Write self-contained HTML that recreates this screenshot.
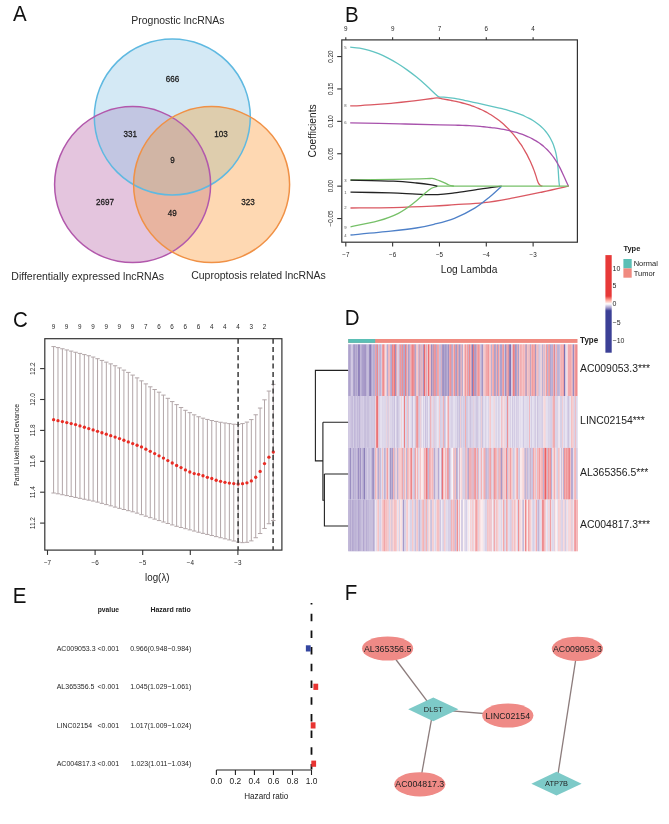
<!DOCTYPE html>
<html><head><meta charset="utf-8"><style>
html,body{margin:0;padding:0;background:#fff;}
svg{display:block;font-family:"Liberation Sans", sans-serif;will-change:transform;}
</style></head><body>
<svg width="669" height="824" viewBox="0 0 669 824">
<rect width="669" height="824" fill="#fff"/>
<text x="0" y="0" transform="translate(13.1,20.9) scale(1,1.04)" font-size="20.5" text-anchor="start" font-weight="normal" fill="#111" >A</text>
<text x="0" y="0" transform="translate(344.9,21.8) scale(1,1.04)" font-size="20.5" text-anchor="start" font-weight="normal" fill="#111" >B</text>
<text x="0" y="0" transform="translate(13,326.5) scale(1,1.04)" font-size="20.5" text-anchor="start" font-weight="normal" fill="#111" >C</text>
<text x="0" y="0" transform="translate(344.8,325.4) scale(1,1.04)" font-size="20.5" text-anchor="start" font-weight="normal" fill="#111" >D</text>
<text x="0" y="0" transform="translate(12.7,602.8) scale(1,1.04)" font-size="20.5" text-anchor="start" font-weight="normal" fill="#111" >E</text>
<text x="0" y="0" transform="translate(344.7,599.8) scale(1,1.04)" font-size="20.5" text-anchor="start" font-weight="normal" fill="#111" >F</text>
<defs>
<clipPath id="cpB"><circle cx="172.3" cy="117.0" r="78.0"/></clipPath>
<clipPath id="cpP"><circle cx="132.6" cy="184.6" r="78.0"/></clipPath>
<clipPath id="cpO"><circle cx="211.6" cy="184.6" r="78.0"/></clipPath>
</defs>
<circle cx="172.3" cy="117.0" r="78.0" fill="rgb(212,233,245)"/>
<circle cx="132.6" cy="184.6" r="78.0" fill="rgb(228,197,222)"/>
<circle cx="211.6" cy="184.6" r="78.0" fill="rgb(254,216,178)"/>
<g clip-path="url(#cpB)"><circle cx="132.6" cy="184.6" r="78.0" fill="rgb(194,198,226)"/><circle cx="211.6" cy="184.6" r="78.0" fill="rgb(222,205,173)"/></g>
<g clip-path="url(#cpP)"><circle cx="211.6" cy="184.6" r="78.0" fill="rgb(232,180,160)"/></g>
<g clip-path="url(#cpB)"><g clip-path="url(#cpP)"><circle cx="211.6" cy="184.6" r="78.0" fill="rgb(209,181,165)"/></g></g>
<circle cx="172.3" cy="117.0" r="78.0" fill="none" stroke="rgb(95,185,225)" stroke-width="1.5"/>
<circle cx="132.6" cy="184.6" r="78.0" fill="none" stroke="rgb(178,88,172)" stroke-width="1.5"/>
<circle cx="211.6" cy="184.6" r="78.0" fill="none" stroke="rgb(240,145,70)" stroke-width="1.5"/>
<text x="0" y="0" transform="translate(172.6,82.2) scale(1,1.04)" font-size="8.1" text-anchor="middle" font-weight="normal" fill="#1a1a1a" stroke="#1a1a1a" stroke-width="0.25">666</text>
<text x="0" y="0" transform="translate(130.2,137.1) scale(1,1.04)" font-size="8.1" text-anchor="middle" font-weight="normal" fill="#1a1a1a" stroke="#1a1a1a" stroke-width="0.25">331</text>
<text x="0" y="0" transform="translate(220.9,137.1) scale(1,1.04)" font-size="8.1" text-anchor="middle" font-weight="normal" fill="#1a1a1a" stroke="#1a1a1a" stroke-width="0.25">103</text>
<text x="0" y="0" transform="translate(172.5,163.4) scale(1,1.04)" font-size="8.1" text-anchor="middle" font-weight="normal" fill="#1a1a1a" stroke="#1a1a1a" stroke-width="0.25">9</text>
<text x="0" y="0" transform="translate(104.9,205.3) scale(1,1.04)" font-size="8.1" text-anchor="middle" font-weight="normal" fill="#1a1a1a" stroke="#1a1a1a" stroke-width="0.25">2697</text>
<text x="0" y="0" transform="translate(172.2,215.9) scale(1,1.04)" font-size="8.1" text-anchor="middle" font-weight="normal" fill="#1a1a1a" stroke="#1a1a1a" stroke-width="0.25">49</text>
<text x="0" y="0" transform="translate(247.9,205.3) scale(1,1.04)" font-size="8.1" text-anchor="middle" font-weight="normal" fill="#1a1a1a" stroke="#1a1a1a" stroke-width="0.25">323</text>
<text x="0" y="0" transform="translate(177.9,24.1) scale(1,1.04)" font-size="10.5" text-anchor="middle" font-weight="normal" fill="#2a2a2a" >Prognostic lncRNAs</text>
<text x="0" y="0" transform="translate(87.6,279.9) scale(1,1.04)" font-size="10.5" text-anchor="middle" font-weight="normal" fill="#2a2a2a" >Differentially expressed lncRNAs</text>
<text x="0" y="0" transform="translate(258.5,279.3) scale(1,1.04)" font-size="10.5" text-anchor="middle" font-weight="normal" fill="#2a2a2a" >Cuproptosis related lncRNAs</text>
<rect x="341.8" y="39.9" width="235.59999999999997" height="202.29999999999998" fill="none" stroke="#333" stroke-width="1.2"/>
<line x1="345.8" y1="39.9" x2="345.8" y2="37.199999999999996" stroke="#333" stroke-width="1.1"/>
<text x="0" y="0" transform="translate(345.8,30.8) scale(1,1.04)" font-size="6.3" text-anchor="middle" font-weight="normal" fill="#262626" >9</text>
<line x1="345.8" y1="242.2" x2="345.8" y2="246.5" stroke="#333" stroke-width="1.1"/>
<text x="0" y="0" transform="translate(345.8,257) scale(1,1.04)" font-size="6.3" text-anchor="middle" font-weight="normal" fill="#262626" >&#8722;7</text>
<line x1="392.63" y1="39.9" x2="392.63" y2="37.199999999999996" stroke="#333" stroke-width="1.1"/>
<text x="0" y="0" transform="translate(392.63,30.8) scale(1,1.04)" font-size="6.3" text-anchor="middle" font-weight="normal" fill="#262626" >9</text>
<line x1="392.63" y1="242.2" x2="392.63" y2="246.5" stroke="#333" stroke-width="1.1"/>
<text x="0" y="0" transform="translate(392.63,257) scale(1,1.04)" font-size="6.3" text-anchor="middle" font-weight="normal" fill="#262626" >&#8722;6</text>
<line x1="439.46" y1="39.9" x2="439.46" y2="37.199999999999996" stroke="#333" stroke-width="1.1"/>
<text x="0" y="0" transform="translate(439.46,30.8) scale(1,1.04)" font-size="6.3" text-anchor="middle" font-weight="normal" fill="#262626" >7</text>
<line x1="439.46" y1="242.2" x2="439.46" y2="246.5" stroke="#333" stroke-width="1.1"/>
<text x="0" y="0" transform="translate(439.46,257) scale(1,1.04)" font-size="6.3" text-anchor="middle" font-weight="normal" fill="#262626" >&#8722;5</text>
<line x1="486.29" y1="39.9" x2="486.29" y2="37.199999999999996" stroke="#333" stroke-width="1.1"/>
<text x="0" y="0" transform="translate(486.29,30.8) scale(1,1.04)" font-size="6.3" text-anchor="middle" font-weight="normal" fill="#262626" >6</text>
<line x1="486.29" y1="242.2" x2="486.29" y2="246.5" stroke="#333" stroke-width="1.1"/>
<text x="0" y="0" transform="translate(486.29,257) scale(1,1.04)" font-size="6.3" text-anchor="middle" font-weight="normal" fill="#262626" >&#8722;4</text>
<line x1="533.12" y1="39.9" x2="533.12" y2="37.199999999999996" stroke="#333" stroke-width="1.1"/>
<text x="0" y="0" transform="translate(533.12,30.8) scale(1,1.04)" font-size="6.3" text-anchor="middle" font-weight="normal" fill="#262626" >4</text>
<line x1="533.12" y1="242.2" x2="533.12" y2="246.5" stroke="#333" stroke-width="1.1"/>
<text x="0" y="0" transform="translate(533.12,257) scale(1,1.04)" font-size="6.3" text-anchor="middle" font-weight="normal" fill="#262626" >&#8722;3</text>
<line x1="337.2" y1="56.55" x2="341.8" y2="56.55" stroke="#333" stroke-width="1.1"/>
<text x="0" y="0" font-size="6.3" text-anchor="middle" fill="#262626" transform="translate(332.6,56.55) rotate(-90) scale(1,1.04)">0.20</text>
<line x1="337.2" y1="88.95" x2="341.8" y2="88.95" stroke="#333" stroke-width="1.1"/>
<text x="0" y="0" font-size="6.3" text-anchor="middle" fill="#262626" transform="translate(332.6,88.95) rotate(-90) scale(1,1.04)">0.15</text>
<line x1="337.2" y1="121.35" x2="341.8" y2="121.35" stroke="#333" stroke-width="1.1"/>
<text x="0" y="0" font-size="6.3" text-anchor="middle" fill="#262626" transform="translate(332.6,121.35) rotate(-90) scale(1,1.04)">0.10</text>
<line x1="337.2" y1="153.75" x2="341.8" y2="153.75" stroke="#333" stroke-width="1.1"/>
<text x="0" y="0" font-size="6.3" text-anchor="middle" fill="#262626" transform="translate(332.6,153.75) rotate(-90) scale(1,1.04)">0.05</text>
<line x1="337.2" y1="186.15" x2="341.8" y2="186.15" stroke="#333" stroke-width="1.1"/>
<text x="0" y="0" font-size="6.3" text-anchor="middle" fill="#262626" transform="translate(332.6,186.15) rotate(-90) scale(1,1.04)">0.00</text>
<line x1="337.2" y1="218.55" x2="341.8" y2="218.55" stroke="#333" stroke-width="1.1"/>
<text x="0" y="0" font-size="6.3" text-anchor="middle" fill="#262626" transform="translate(332.6,218.55) rotate(-90) scale(1,1.04)">&#8722;0.05</text>
<text x="0" y="0" font-size="10.2" text-anchor="middle" fill="#222" transform="translate(316.4,130.9) rotate(-90) scale(1,1.04)">Coefficients</text>
<text x="0" y="0" transform="translate(469.1,273.1) scale(1,1.04)" font-size="10.2" text-anchor="middle" font-weight="normal" fill="#222" >Log Lambda</text>
<path d="M350.2,47.2 C351.78,47.35 356.52,47.58 359.68,48.1 C362.84,48.62 366,49.4 369.16,50.34 C372.31,51.27 375.47,52.41 378.63,53.7 C381.79,55 384.95,56.48 388.11,58.12 C391.27,59.75 394.43,61.56 397.59,63.51 C400.75,65.47 403.91,67.59 407.07,69.85 C410.23,72.11 413.39,74.53 416.54,77.09 C419.7,79.66 422.86,82.37 426.02,85.22 C429.18,88.07 433.34,92.25 435.5,94.19 C437.66,96.14 437.6,96.41 439,96.9 C440.4,97.39 442.3,97.01 443.88,97.13 C445.46,97.24 446.97,97.39 448.46,97.57 C449.95,97.74 451.4,97.95 452.83,98.17 C454.26,98.39 455.66,98.63 457.05,98.88 C458.45,99.13 459.82,99.4 461.19,99.68 C462.57,99.95 463.93,100.24 465.29,100.53 C466.66,100.82 468.02,101.11 469.39,101.41 C470.76,101.71 472.14,102.01 473.52,102.31 C474.9,102.62 476.29,102.92 477.69,103.23 C479.09,103.54 480.5,103.84 481.92,104.15 C483.33,104.47 484.76,104.78 486.2,105.09 C487.64,105.41 489.09,105.73 490.54,106.06 C492,106.38 493.46,106.71 494.93,107.05 C496.4,107.39 497.87,107.74 499.35,108.1 C500.82,108.46 502.3,108.82 503.78,109.21 C505.25,109.59 506.73,109.99 508.2,110.41 C509.67,110.82 511.13,111.25 512.58,111.71 C514.04,112.16 515.48,112.64 516.91,113.14 C518.33,113.64 519.75,114.16 521.14,114.72 C522.53,115.27 523.9,115.85 525.25,116.47 C526.59,117.08 527.92,117.73 529.2,118.41 C530.49,119.09 531.76,119.81 532.98,120.56 C534.2,121.31 535.4,122.1 536.55,122.93 C537.7,123.76 538.81,124.63 539.88,125.55 C540.95,126.46 541.98,127.41 542.95,128.4 C543.93,129.4 544.87,130.44 545.75,131.52 C546.64,132.6 547.47,133.72 548.26,134.88 C549.05,136.05 549.78,137.25 550.47,138.5 C551.15,139.74 551.79,141.03 552.37,142.35 C552.95,143.67 553.49,145.03 553.97,146.42 C554.46,147.82 554.89,149.24 555.28,150.7 C555.67,152.15 556.02,153.63 556.32,155.13 C556.62,156.63 556.88,158.16 557.11,159.69 C557.34,161.23 557.53,162.78 557.69,164.33 C557.86,165.88 557.99,167.44 558.11,168.98 C558.24,170.52 558.33,172.07 558.43,173.58 C558.53,175.09 558.61,176.6 558.71,178.05 C558.81,179.5 558.9,180.93 559.03,182.29 C559.16,183.65 559.42,185.55 559.5,186.2" fill="none" stroke="rgb(97,196,194)" stroke-width="1.3"/>
<path d="M350.2,105.9 C351.9,105.85 357.02,105.73 360.43,105.57 C363.83,105.42 367.24,105.2 370.65,104.97 C374.06,104.74 377.47,104.48 380.88,104.2 C384.28,103.92 387.69,103.61 391.1,103.28 C394.51,102.95 397.92,102.6 401.32,102.24 C404.73,101.87 408.14,101.49 411.55,101.09 C414.96,100.69 418.37,100.27 421.77,99.83 C425.18,99.4 429.46,98.83 432,98.49 C434.54,98.15 435.59,97.8 437,97.8 C438.41,97.8 439.29,98.25 440.44,98.47 C441.6,98.69 442.76,98.9 443.92,99.12 C445.09,99.33 446.26,99.54 447.43,99.76 C448.6,99.98 449.77,100.21 450.95,100.44 C452.12,100.67 453.3,100.9 454.47,101.15 C455.64,101.39 456.81,101.65 457.98,101.91 C459.15,102.18 460.31,102.46 461.48,102.75 C462.64,103.04 463.79,103.34 464.94,103.66 C466.09,103.98 467.24,104.32 468.38,104.67 C469.51,105.02 470.65,105.39 471.77,105.78 C472.89,106.16 474.01,106.56 475.11,106.99 C476.22,107.41 477.32,107.85 478.4,108.31 C479.49,108.77 480.57,109.25 481.63,109.75 C482.7,110.24 483.76,110.76 484.8,111.3 C485.84,111.84 486.88,112.4 487.9,112.97 C488.92,113.55 489.93,114.15 490.93,114.77 C491.92,115.38 492.91,116.02 493.88,116.68 C494.85,117.33 495.81,118.01 496.75,118.7 C497.7,119.4 498.63,120.11 499.55,120.84 C500.46,121.57 501.37,122.32 502.26,123.09 C503.15,123.86 504.03,124.64 504.89,125.45 C505.75,126.25 506.6,127.07 507.43,127.9 C508.27,128.74 509.09,129.59 509.89,130.46 C510.7,131.32 511.49,132.21 512.26,133.1 C513.04,134 513.8,134.91 514.55,135.83 C515.3,136.76 516.03,137.69 516.75,138.64 C517.47,139.59 518.17,140.55 518.86,141.53 C519.55,142.5 520.22,143.48 520.88,144.48 C521.54,145.47 522.18,146.48 522.81,147.49 C523.44,148.5 524.06,149.53 524.66,150.56 C525.26,151.59 525.84,152.63 526.41,153.68 C526.98,154.72 527.54,155.78 528.08,156.84 C528.62,157.9 529.15,158.97 529.66,160.05 C530.17,161.13 530.66,162.21 531.14,163.29 C531.62,164.38 532.09,165.48 532.54,166.57 C532.99,167.67 533.43,168.78 533.85,169.88 C534.27,170.99 534.67,172.11 535.06,173.23 C535.45,174.35 535.82,175.47 536.18,176.6 C536.53,177.73 536.8,178.87 537.2,180 C537.6,181.13 538.07,182.5 538.6,183.4 C539.13,184.3 539.77,184.93 540.4,185.4 C541.03,185.87 542.07,186.07 542.4,186.2" fill="none" stroke="rgb(218,88,98)" stroke-width="1.3"/>
<path d="M350.2,122.9 C358.5,123.07 385.03,123.58 400,123.9 C414.97,124.22 430.83,124.58 440,124.8 C449.17,125.02 451.87,125.12 455,125.2 C458.13,125.28 457.56,125.23 458.81,125.26 C460.06,125.29 461.28,125.33 462.5,125.37 C463.71,125.42 464.9,125.47 466.09,125.52 C467.28,125.58 468.46,125.64 469.63,125.71 C470.81,125.78 471.97,125.85 473.14,125.92 C474.3,126 475.46,126.08 476.62,126.17 C477.79,126.26 478.95,126.35 480.11,126.45 C481.27,126.55 482.44,126.65 483.6,126.76 C484.77,126.87 485.94,126.99 487.11,127.11 C488.29,127.23 489.46,127.37 490.64,127.51 C491.82,127.65 493.01,127.79 494.19,127.95 C495.38,128.11 496.57,128.28 497.76,128.46 C498.95,128.64 500.14,128.83 501.34,129.03 C502.53,129.24 503.73,129.45 504.92,129.69 C506.11,129.92 507.31,130.16 508.5,130.43 C509.69,130.69 510.88,130.97 512.07,131.26 C513.25,131.56 514.43,131.87 515.61,132.21 C516.78,132.54 517.95,132.89 519.11,133.27 C520.26,133.64 521.42,134.04 522.56,134.46 C523.69,134.87 524.82,135.31 525.94,135.78 C527.05,136.24 528.16,136.73 529.24,137.24 C530.33,137.75 531.4,138.29 532.46,138.85 C533.51,139.42 534.55,140.01 535.57,140.62 C536.58,141.24 537.58,141.88 538.56,142.55 C539.54,143.21 540.5,143.91 541.43,144.63 C542.36,145.35 543.27,146.1 544.16,146.88 C545.05,147.65 545.92,148.45 546.76,149.28 C547.6,150.11 548.41,150.96 549.2,151.84 C550,152.72 550.76,153.62 551.5,154.55 C552.25,155.47 552.97,156.42 553.66,157.39 C554.35,158.36 555.02,159.36 555.67,160.37 C556.32,161.38 556.95,162.41 557.55,163.45 C558.16,164.5 558.74,165.56 559.31,166.64 C559.88,167.71 560.43,168.8 560.96,169.89 C561.5,170.98 562.02,172.09 562.53,173.19 C563.04,174.29 563.53,175.4 564.03,176.5 C564.53,177.61 565.01,178.71 565.5,179.8 C565.99,180.9 566.48,181.98 566.98,183.05 C567.48,184.12 568.25,185.68 568.5,186.2" fill="none" stroke="rgb(168,82,172)" stroke-width="1.3"/>
<path d="M350.5,192.1 C357.22,192.23 379.85,192.57 390.8,192.9 C401.75,193.23 408.37,193.82 416.2,194.1 C424.03,194.38 431.43,194.8 437.8,194.6 C444.17,194.4 447.4,193.82 454.4,192.9 C461.4,191.98 471.93,190.22 479.8,189.1 C487.67,187.98 497.97,186.68 501.6,186.2" fill="none" stroke="rgb(35,35,35)" stroke-width="1.3"/>
<path d="M350.5,208 C357.63,207.93 379.68,207.9 393.3,207.6 C406.92,207.3 421.92,206.68 432.2,206.2 C442.48,205.72 446.35,205.28 455,204.7 C463.65,204.12 474.38,203.83 484.1,202.7 C493.82,201.57 503.58,199.68 513.3,197.9 C523.02,196.12 533.17,193.95 542.4,192 C551.63,190.05 564.32,187.17 568.7,186.2" fill="none" stroke="rgb(218,88,98)" stroke-width="1.3"/>
<path d="M350.5,235 C357.22,234.37 379.85,232.37 390.8,231.2 C401.75,230.03 409,229.15 416.2,228 C423.4,226.85 427.63,225.92 434,224.3 C440.37,222.68 447.62,221 454.4,218.3 C461.18,215.6 468.78,211.7 474.7,208.1 C480.62,204.5 485.42,200.35 489.9,196.7 C494.38,193.05 499.65,187.95 501.6,186.2" fill="none" stroke="rgb(78,128,200)" stroke-width="1.3"/>
<path d="M350.5,180 C357.63,179.9 381.72,179.6 393.3,179.4 C404.88,179.2 413.88,178.95 420,178.8 C426.12,178.65 427.58,178.5 430,178.5 C432.42,178.5 432.17,178.12 434.5,178.8 C436.83,179.48 441.58,181.57 444,182.6 C446.42,183.63 447.33,184.4 449,185 C450.67,185.6 453.17,186 454,186.2" fill="none" stroke="rgb(118,192,104)" stroke-width="1.3"/>
<path d="M350.5,226.8 C355.08,225.82 370.02,223.15 378,220.9 C385.98,218.65 392.45,216.27 398.4,213.3 C404.35,210.33 409.45,206.28 413.7,203.1 C417.95,199.92 420.93,196.67 423.9,194.2 C426.87,191.73 429.25,189.63 431.5,188.3 C433.75,186.97 436.42,186.55 437.4,186.2" fill="none" stroke="rgb(118,192,104)" stroke-width="1.3"/>
<line x1="437.4" y1="186.2" x2="568.7" y2="186.2" stroke="rgb(118,192,104)" stroke-width="1.3"/>
<path d="M350.5,180.2 C357.63,180.37 382.28,180.73 393.3,181.2 C404.32,181.67 410.48,182.43 416.6,183 C422.72,183.57 426.53,184.07 430,184.6 C433.47,185.13 436.17,185.93 437.4,186.2" fill="none" stroke="rgb(35,35,35)" stroke-width="1.3"/>
<text x="0" y="0" transform="translate(345.5,48.7) scale(1,1.04)" font-size="4.2" text-anchor="middle" font-weight="normal" fill="#555" >5</text>
<text x="0" y="0" transform="translate(345.5,107.4) scale(1,1.04)" font-size="4.2" text-anchor="middle" font-weight="normal" fill="#555" >8</text>
<text x="0" y="0" transform="translate(345.5,124.4) scale(1,1.04)" font-size="4.2" text-anchor="middle" font-weight="normal" fill="#555" >6</text>
<text x="0" y="0" transform="translate(345.5,181.5) scale(1,1.04)" font-size="4.2" text-anchor="middle" font-weight="normal" fill="#555" >3</text>
<text x="0" y="0" transform="translate(345.5,193.5) scale(1,1.04)" font-size="4.2" text-anchor="middle" font-weight="normal" fill="#555" >1</text>
<text x="0" y="0" transform="translate(345.5,209.1) scale(1,1.04)" font-size="4.2" text-anchor="middle" font-weight="normal" fill="#555" >2</text>
<text x="0" y="0" transform="translate(345.5,228.5) scale(1,1.04)" font-size="4.2" text-anchor="middle" font-weight="normal" fill="#555" >9</text>
<text x="0" y="0" transform="translate(345.5,236.7) scale(1,1.04)" font-size="4.2" text-anchor="middle" font-weight="normal" fill="#555" >4</text>
<rect x="44.8" y="338.7" width="237.09999999999997" height="211.40000000000003" fill="none" stroke="#333" stroke-width="1.2"/>
<line x1="47.5" y1="550.1" x2="47.5" y2="554.9" stroke="#333" stroke-width="1.1"/>
<text x="0" y="0" transform="translate(47.5,565.3) scale(1,1.04)" font-size="6.3" text-anchor="middle" font-weight="normal" fill="#262626" >&#8722;7</text>
<line x1="95.1" y1="550.1" x2="95.1" y2="554.9" stroke="#333" stroke-width="1.1"/>
<text x="0" y="0" transform="translate(95.1,565.3) scale(1,1.04)" font-size="6.3" text-anchor="middle" font-weight="normal" fill="#262626" >&#8722;6</text>
<line x1="142.7" y1="550.1" x2="142.7" y2="554.9" stroke="#333" stroke-width="1.1"/>
<text x="0" y="0" transform="translate(142.7,565.3) scale(1,1.04)" font-size="6.3" text-anchor="middle" font-weight="normal" fill="#262626" >&#8722;5</text>
<line x1="190.3" y1="550.1" x2="190.3" y2="554.9" stroke="#333" stroke-width="1.1"/>
<text x="0" y="0" transform="translate(190.3,565.3) scale(1,1.04)" font-size="6.3" text-anchor="middle" font-weight="normal" fill="#262626" >&#8722;4</text>
<line x1="237.9" y1="550.1" x2="237.9" y2="554.9" stroke="#333" stroke-width="1.1"/>
<text x="0" y="0" transform="translate(237.9,565.3) scale(1,1.04)" font-size="6.3" text-anchor="middle" font-weight="normal" fill="#262626" >&#8722;3</text>
<line x1="40.099999999999994" y1="368.6" x2="44.8" y2="368.6" stroke="#333" stroke-width="1.1"/>
<text x="0" y="0" font-size="6.5" text-anchor="middle" fill="#262626" transform="translate(34.8,368.6) rotate(-90) scale(1,1.04)">12.2</text>
<line x1="40.099999999999994" y1="399.5" x2="44.8" y2="399.5" stroke="#333" stroke-width="1.1"/>
<text x="0" y="0" font-size="6.5" text-anchor="middle" fill="#262626" transform="translate(34.8,399.5) rotate(-90) scale(1,1.04)">12.0</text>
<line x1="40.099999999999994" y1="430.4" x2="44.8" y2="430.4" stroke="#333" stroke-width="1.1"/>
<text x="0" y="0" font-size="6.5" text-anchor="middle" fill="#262626" transform="translate(34.8,430.4) rotate(-90) scale(1,1.04)">11.8</text>
<line x1="40.099999999999994" y1="461.3" x2="44.8" y2="461.3" stroke="#333" stroke-width="1.1"/>
<text x="0" y="0" font-size="6.5" text-anchor="middle" fill="#262626" transform="translate(34.8,461.3) rotate(-90) scale(1,1.04)">11.6</text>
<line x1="40.099999999999994" y1="492.2" x2="44.8" y2="492.2" stroke="#333" stroke-width="1.1"/>
<text x="0" y="0" font-size="6.5" text-anchor="middle" fill="#262626" transform="translate(34.8,492.2) rotate(-90) scale(1,1.04)">11.4</text>
<line x1="40.099999999999994" y1="523.1" x2="44.8" y2="523.1" stroke="#333" stroke-width="1.1"/>
<text x="0" y="0" font-size="6.5" text-anchor="middle" fill="#262626" transform="translate(34.8,523.1) rotate(-90) scale(1,1.04)">11.2</text>
<text x="0" y="0" font-size="6.8" text-anchor="middle" fill="#222" transform="translate(18.9,444.9) rotate(-90) scale(1,1.04)">Partial Likelihood Deviance</text>
<text x="0" y="0" transform="translate(157.3,580.6) scale(1,1.04)" font-size="9.8" text-anchor="middle" font-weight="normal" fill="#222" >log(&#955;)</text>
<text x="0" y="0" transform="translate(53.4,328.8) scale(1,1.04)" font-size="6.3" text-anchor="middle" font-weight="normal" fill="#262626" >9</text>
<text x="0" y="0" transform="translate(66.59,328.8) scale(1,1.04)" font-size="6.3" text-anchor="middle" font-weight="normal" fill="#262626" >9</text>
<text x="0" y="0" transform="translate(79.78,328.8) scale(1,1.04)" font-size="6.3" text-anchor="middle" font-weight="normal" fill="#262626" >9</text>
<text x="0" y="0" transform="translate(92.97,328.8) scale(1,1.04)" font-size="6.3" text-anchor="middle" font-weight="normal" fill="#262626" >9</text>
<text x="0" y="0" transform="translate(106.16,328.8) scale(1,1.04)" font-size="6.3" text-anchor="middle" font-weight="normal" fill="#262626" >9</text>
<text x="0" y="0" transform="translate(119.35,328.8) scale(1,1.04)" font-size="6.3" text-anchor="middle" font-weight="normal" fill="#262626" >9</text>
<text x="0" y="0" transform="translate(132.54,328.8) scale(1,1.04)" font-size="6.3" text-anchor="middle" font-weight="normal" fill="#262626" >9</text>
<text x="0" y="0" transform="translate(145.73,328.8) scale(1,1.04)" font-size="6.3" text-anchor="middle" font-weight="normal" fill="#262626" >7</text>
<text x="0" y="0" transform="translate(158.92,328.8) scale(1,1.04)" font-size="6.3" text-anchor="middle" font-weight="normal" fill="#262626" >6</text>
<text x="0" y="0" transform="translate(172.11,328.8) scale(1,1.04)" font-size="6.3" text-anchor="middle" font-weight="normal" fill="#262626" >6</text>
<text x="0" y="0" transform="translate(185.3,328.8) scale(1,1.04)" font-size="6.3" text-anchor="middle" font-weight="normal" fill="#262626" >6</text>
<text x="0" y="0" transform="translate(198.49,328.8) scale(1,1.04)" font-size="6.3" text-anchor="middle" font-weight="normal" fill="#262626" >6</text>
<text x="0" y="0" transform="translate(211.68,328.8) scale(1,1.04)" font-size="6.3" text-anchor="middle" font-weight="normal" fill="#262626" >4</text>
<text x="0" y="0" transform="translate(224.87,328.8) scale(1,1.04)" font-size="6.3" text-anchor="middle" font-weight="normal" fill="#262626" >4</text>
<text x="0" y="0" transform="translate(238.06,328.8) scale(1,1.04)" font-size="6.3" text-anchor="middle" font-weight="normal" fill="#262626" >4</text>
<text x="0" y="0" transform="translate(251.25,328.8) scale(1,1.04)" font-size="6.3" text-anchor="middle" font-weight="normal" fill="#262626" >3</text>
<text x="0" y="0" transform="translate(264.44,328.8) scale(1,1.04)" font-size="6.3" text-anchor="middle" font-weight="normal" fill="#262626" >2</text>
<path d="M53.6,346.59V493 M57.99,347.62V493.81 M62.39,348.78V494.72 M66.78,349.94V495.62 M71.18,351.1V496.53 M75.57,352.26V497.43 M79.96,353.42V498.34 M84.36,354.58V499.24 M88.75,355.74V500.15 M93.15,357.06V501.06 M97.54,358.71V502.12 M101.93,360.42V503.35 M106.33,362.14V504.6 M110.72,363.87V505.85 M115.12,365.75V507.11 M119.51,367.91V508.34 M123.9,370.1V509.51 M128.3,372.41V510.66 M132.69,375.08V511.81 M137.09,377.88V513.15 M141.48,380.85V514.66 M145.87,383.88V516.19 M150.27,386.82V517.68 M154.66,389.52V519.13 M159.06,392.17V520.58 M163.45,395.08V522.03 M167.84,398.32V523.48 M172.24,401.58V524.92 M176.63,404.62V526.29 M181.03,407.52V527.5 M185.42,410.3V528.68 M189.81,412.65V529.86 M194.21,414.84V531.04 M198.6,416.76V532.22 M203,418.16V533.35 M207.39,419.43V534.44 M211.78,420.52V535.54 M216.18,421.42V536.63 M220.57,422.27V537.73 M224.97,422.98V538.82 M229.36,423.61V539.92 M233.75,424.23V541.01 M238.15,424.51V542.05 M242.54,423.57V542.65 M246.94,422.09V542.31 M251.33,419.58V540.87 M255.72,414.77V537.72 M260.12,408.06V533.54 M264.51,399.82V528.44 M268.91,391.05V523.73 M273.3,384.39V520.53" stroke="rgb(178,166,168)" stroke-width="1" fill="none"/>
<path d="M51.4,346.59H55.8 M51.4,493H55.8 M55.79,347.62H60.19 M55.79,493.81H60.19 M60.19,348.78H64.59 M60.19,494.72H64.59 M64.58,349.94H68.98 M64.58,495.62H68.98 M68.98,351.1H73.38 M68.98,496.53H73.38 M73.37,352.26H77.77 M73.37,497.43H77.77 M77.76,353.42H82.16 M77.76,498.34H82.16 M82.16,354.58H86.56 M82.16,499.24H86.56 M86.55,355.74H90.95 M86.55,500.15H90.95 M90.95,357.06H95.35 M90.95,501.06H95.35 M95.34,358.71H99.74 M95.34,502.12H99.74 M99.73,360.42H104.13 M99.73,503.35H104.13 M104.13,362.14H108.53 M104.13,504.6H108.53 M108.52,363.87H112.92 M108.52,505.85H112.92 M112.92,365.75H117.32 M112.92,507.11H117.32 M117.31,367.91H121.71 M117.31,508.34H121.71 M121.7,370.1H126.1 M121.7,509.51H126.1 M126.1,372.41H130.5 M126.1,510.66H130.5 M130.49,375.08H134.89 M130.49,511.81H134.89 M134.89,377.88H139.29 M134.89,513.15H139.29 M139.28,380.85H143.68 M139.28,514.66H143.68 M143.67,383.88H148.07 M143.67,516.19H148.07 M148.07,386.82H152.47 M148.07,517.68H152.47 M152.46,389.52H156.86 M152.46,519.13H156.86 M156.86,392.17H161.26 M156.86,520.58H161.26 M161.25,395.08H165.65 M161.25,522.03H165.65 M165.64,398.32H170.04 M165.64,523.48H170.04 M170.04,401.58H174.44 M170.04,524.92H174.44 M174.43,404.62H178.83 M174.43,526.29H178.83 M178.83,407.52H183.23 M178.83,527.5H183.23 M183.22,410.3H187.62 M183.22,528.68H187.62 M187.61,412.65H192.01 M187.61,529.86H192.01 M192.01,414.84H196.41 M192.01,531.04H196.41 M196.4,416.76H200.8 M196.4,532.22H200.8 M200.8,418.16H205.2 M200.8,533.35H205.2 M205.19,419.43H209.59 M205.19,534.44H209.59 M209.58,420.52H213.98 M209.58,535.54H213.98 M213.98,421.42H218.38 M213.98,536.63H218.38 M218.37,422.27H222.77 M218.37,537.73H222.77 M222.77,422.98H227.17 M222.77,538.82H227.17 M227.16,423.61H231.56 M227.16,539.92H231.56 M231.55,424.23H235.95 M231.55,541.01H235.95 M235.95,424.51H240.35 M235.95,542.05H240.35 M240.34,423.57H244.74 M240.34,542.65H244.74 M244.74,422.09H249.14 M244.74,542.31H249.14 M249.13,419.58H253.53 M249.13,540.87H253.53 M253.52,414.77H257.92 M253.52,537.72H257.92 M257.92,408.06H262.32 M257.92,533.54H262.32 M262.31,399.82H266.71 M262.31,528.44H266.71 M266.71,391.05H271.11 M266.71,523.73H271.11 M271.1,384.39H275.5 M271.1,520.53H275.5" stroke="rgb(178,166,168)" stroke-width="1" fill="none"/>
<circle cx="53.6" cy="419.64" r="1.65" fill="rgb(232,44,36)"/>
<circle cx="57.99" cy="420.63" r="1.65" fill="rgb(232,44,36)"/>
<circle cx="62.39" cy="421.61" r="1.65" fill="rgb(232,44,36)"/>
<circle cx="66.78" cy="422.59" r="1.65" fill="rgb(232,44,36)"/>
<circle cx="71.18" cy="423.58" r="1.65" fill="rgb(232,44,36)"/>
<circle cx="75.57" cy="424.58" r="1.65" fill="rgb(232,44,36)"/>
<circle cx="79.96" cy="425.92" r="1.65" fill="rgb(232,44,36)"/>
<circle cx="84.36" cy="427.26" r="1.65" fill="rgb(232,44,36)"/>
<circle cx="88.75" cy="428.6" r="1.65" fill="rgb(232,44,36)"/>
<circle cx="93.15" cy="429.93" r="1.65" fill="rgb(232,44,36)"/>
<circle cx="97.54" cy="431.28" r="1.65" fill="rgb(232,44,36)"/>
<circle cx="101.93" cy="432.74" r="1.65" fill="rgb(232,44,36)"/>
<circle cx="106.33" cy="434.2" r="1.65" fill="rgb(232,44,36)"/>
<circle cx="110.72" cy="435.65" r="1.65" fill="rgb(232,44,36)"/>
<circle cx="115.12" cy="437.11" r="1.65" fill="rgb(232,44,36)"/>
<circle cx="119.51" cy="438.58" r="1.65" fill="rgb(232,44,36)"/>
<circle cx="123.9" cy="440.24" r="1.65" fill="rgb(232,44,36)"/>
<circle cx="128.3" cy="441.91" r="1.65" fill="rgb(232,44,36)"/>
<circle cx="132.69" cy="443.58" r="1.65" fill="rgb(232,44,36)"/>
<circle cx="137.09" cy="445.24" r="1.65" fill="rgb(232,44,36)"/>
<circle cx="141.48" cy="446.94" r="1.65" fill="rgb(232,44,36)"/>
<circle cx="145.87" cy="449.16" r="1.65" fill="rgb(232,44,36)"/>
<circle cx="150.27" cy="451.37" r="1.65" fill="rgb(232,44,36)"/>
<circle cx="154.66" cy="453.59" r="1.65" fill="rgb(232,44,36)"/>
<circle cx="159.06" cy="455.81" r="1.65" fill="rgb(232,44,36)"/>
<circle cx="163.45" cy="458.03" r="1.65" fill="rgb(232,44,36)"/>
<circle cx="167.84" cy="460.58" r="1.65" fill="rgb(232,44,36)"/>
<circle cx="172.24" cy="462.98" r="1.65" fill="rgb(232,44,36)"/>
<circle cx="176.63" cy="465.51" r="1.65" fill="rgb(232,44,36)"/>
<circle cx="181.03" cy="467.57" r="1.65" fill="rgb(232,44,36)"/>
<circle cx="185.42" cy="469.96" r="1.65" fill="rgb(232,44,36)"/>
<circle cx="189.81" cy="471.98" r="1.65" fill="rgb(232,44,36)"/>
<circle cx="194.21" cy="473.54" r="1.65" fill="rgb(232,44,36)"/>
<circle cx="198.6" cy="474.33" r="1.65" fill="rgb(232,44,36)"/>
<circle cx="203" cy="475.77" r="1.65" fill="rgb(232,44,36)"/>
<circle cx="207.39" cy="477.37" r="1.65" fill="rgb(232,44,36)"/>
<circle cx="211.78" cy="478.51" r="1.65" fill="rgb(232,44,36)"/>
<circle cx="216.18" cy="480.24" r="1.65" fill="rgb(232,44,36)"/>
<circle cx="220.57" cy="481.32" r="1.65" fill="rgb(232,44,36)"/>
<circle cx="224.97" cy="482.33" r="1.65" fill="rgb(232,44,36)"/>
<circle cx="229.36" cy="483.11" r="1.65" fill="rgb(232,44,36)"/>
<circle cx="233.75" cy="483.61" r="1.65" fill="rgb(232,44,36)"/>
<circle cx="238.15" cy="483.99" r="1.65" fill="rgb(232,44,36)"/>
<circle cx="242.54" cy="483.66" r="1.65" fill="rgb(232,44,36)"/>
<circle cx="246.94" cy="482.84" r="1.65" fill="rgb(232,44,36)"/>
<circle cx="251.33" cy="480.88" r="1.65" fill="rgb(232,44,36)"/>
<circle cx="255.72" cy="477.25" r="1.65" fill="rgb(232,44,36)"/>
<circle cx="260.12" cy="471.41" r="1.65" fill="rgb(232,44,36)"/>
<circle cx="264.51" cy="463.58" r="1.65" fill="rgb(232,44,36)"/>
<circle cx="268.91" cy="457.18" r="1.65" fill="rgb(232,44,36)"/>
<circle cx="273.3" cy="452" r="1.65" fill="rgb(232,44,36)"/>
<line x1="238.1" y1="338.7" x2="238.1" y2="550.1" stroke="#3a3a3a" stroke-width="1.5" stroke-dasharray="5,3.3"/>
<line x1="273.1" y1="338.7" x2="273.1" y2="550.1" stroke="#3a3a3a" stroke-width="1.5" stroke-dasharray="5,3.3"/>
<rect x="348.2" y="344.3" width="0.56" height="51.7" fill="#8678b4"/><rect x="348.74" y="344.3" width="1.64" height="51.7" fill="#aea2cd"/><rect x="350.36" y="344.3" width="1.1" height="51.7" fill="#a496c6"/><rect x="351.44" y="344.3" width="1.64" height="51.7" fill="#cfc7e1"/><rect x="353.07" y="344.3" width="0.56" height="51.7" fill="#9789bf"/><rect x="353.61" y="344.3" width="1.1" height="51.7" fill="#8e80b9"/><rect x="354.69" y="344.3" width="0.56" height="51.7" fill="#9385bc"/><rect x="355.23" y="344.3" width="0.56" height="51.7" fill="#9284bb"/><rect x="355.77" y="344.3" width="0.56" height="51.7" fill="#bcb1d5"/><rect x="356.31" y="344.3" width="1.1" height="51.7" fill="#988abf"/><rect x="357.39" y="344.3" width="0.56" height="51.7" fill="#b3a7cf"/><rect x="357.93" y="344.3" width="1.1" height="51.7" fill="#9082ba"/><rect x="359.02" y="344.3" width="1.1" height="51.7" fill="#9486bd"/><rect x="360.1" y="344.3" width="0.56" height="51.7" fill="#9b8dc1"/><rect x="360.64" y="344.3" width="0.56" height="51.7" fill="#c1b8d8"/><rect x="361.18" y="344.3" width="0.56" height="51.7" fill="#9d8fc2"/><rect x="361.72" y="344.3" width="1.1" height="51.7" fill="#9c8ec1"/><rect x="362.8" y="344.3" width="1.1" height="51.7" fill="#a294c5"/><rect x="363.88" y="344.3" width="1.1" height="51.7" fill="#a597c7"/><rect x="364.96" y="344.3" width="1.64" height="51.7" fill="#a395c5"/><rect x="366.59" y="344.3" width="0.56" height="51.7" fill="#b2a6cf"/><rect x="367.13" y="344.3" width="1.1" height="51.7" fill="#bfb5d7"/><rect x="368.21" y="344.3" width="0.56" height="51.7" fill="#bfb5d7"/><rect x="368.75" y="344.3" width="1.1" height="51.7" fill="#8b7db7"/><rect x="369.83" y="344.3" width="1.64" height="51.7" fill="#8c7eb8"/><rect x="371.45" y="344.3" width="0.56" height="51.7" fill="#9e90c3"/><rect x="372" y="344.3" width="1.1" height="51.7" fill="#c4bada"/><rect x="373.08" y="344.3" width="1.1" height="51.7" fill="#b2a6cf"/><rect x="374.16" y="344.3" width="0.56" height="51.7" fill="#8b7db7"/><rect x="374.7" y="344.3" width="0.56" height="51.7" fill="#bdb3d6"/><rect x="375.24" y="344.3" width="1.1" height="51.7" fill="#ee8b8f"/><rect x="376.32" y="344.3" width="0.56" height="51.7" fill="#9082ba"/><rect x="376.86" y="344.3" width="1.1" height="51.7" fill="#ed8386"/><rect x="377.94" y="344.3" width="1.1" height="51.7" fill="#ccc4df"/><rect x="379.03" y="344.3" width="0.56" height="51.7" fill="#ef979a"/><rect x="379.57" y="344.3" width="1.1" height="51.7" fill="#a698c7"/><rect x="380.65" y="344.3" width="1.1" height="51.7" fill="#b6aad1"/><rect x="381.73" y="344.3" width="0.56" height="51.7" fill="#faeaec"/><rect x="382.27" y="344.3" width="1.64" height="51.7" fill="#ec7c80"/><rect x="383.89" y="344.3" width="0.56" height="51.7" fill="#f4bdbf"/><rect x="384.43" y="344.3" width="0.56" height="51.7" fill="#ef979a"/><rect x="384.97" y="344.3" width="0.56" height="51.7" fill="#f5bfc2"/><rect x="385.52" y="344.3" width="1.1" height="51.7" fill="#f8d9db"/><rect x="386.6" y="344.3" width="0.56" height="51.7" fill="#b5a9d0"/><rect x="387.14" y="344.3" width="1.1" height="51.7" fill="#ac9fcb"/><rect x="388.22" y="344.3" width="0.56" height="51.7" fill="#f19fa2"/><rect x="388.76" y="344.3" width="0.56" height="51.7" fill="#f1a4a7"/><rect x="389.3" y="344.3" width="1.1" height="51.7" fill="#f2abae"/><rect x="390.38" y="344.3" width="0.56" height="51.7" fill="#9b8dc1"/><rect x="390.92" y="344.3" width="1.1" height="51.7" fill="#b1a5ce"/><rect x="392" y="344.3" width="1.64" height="51.7" fill="#ed8588"/><rect x="393.63" y="344.3" width="1.64" height="51.7" fill="#eb767b"/><rect x="395.25" y="344.3" width="0.56" height="51.7" fill="#8274b2"/><rect x="395.79" y="344.3" width="0.56" height="51.7" fill="#61539f"/><rect x="396.33" y="344.3" width="1.1" height="51.7" fill="#f1a2a5"/><rect x="397.41" y="344.3" width="1.64" height="51.7" fill="#d5cde5"/><rect x="399.04" y="344.3" width="0.56" height="51.7" fill="#a193c4"/><rect x="399.58" y="344.3" width="1.64" height="51.7" fill="#f0999c"/><rect x="401.2" y="344.3" width="0.56" height="51.7" fill="#9385bc"/><rect x="401.74" y="344.3" width="1.64" height="51.7" fill="#ee8f92"/><rect x="403.36" y="344.3" width="1.1" height="51.7" fill="#9a8cc0"/><rect x="404.44" y="344.3" width="0.56" height="51.7" fill="#9c8ec1"/><rect x="404.98" y="344.3" width="1.1" height="51.7" fill="#ec7f83"/><rect x="406.07" y="344.3" width="0.56" height="51.7" fill="#6355a0"/><rect x="406.61" y="344.3" width="1.64" height="51.7" fill="#f4b8bb"/><rect x="408.23" y="344.3" width="1.1" height="51.7" fill="#9789be"/><rect x="409.31" y="344.3" width="1.1" height="51.7" fill="#ab9eca"/><rect x="410.39" y="344.3" width="1.64" height="51.7" fill="#f19fa2"/><rect x="412.01" y="344.3" width="1.1" height="51.7" fill="#ed8387"/><rect x="413.1" y="344.3" width="1.64" height="51.7" fill="#ed868a"/><rect x="414.72" y="344.3" width="1.1" height="51.7" fill="#988abf"/><rect x="415.8" y="344.3" width="0.56" height="51.7" fill="#d1c9e2"/><rect x="416.34" y="344.3" width="1.1" height="51.7" fill="#f3b2b4"/><rect x="417.42" y="344.3" width="1.1" height="51.7" fill="#f5bec0"/><rect x="418.5" y="344.3" width="0.56" height="51.7" fill="#a395c5"/><rect x="419.05" y="344.3" width="0.56" height="51.7" fill="#e85e63"/><rect x="419.59" y="344.3" width="1.1" height="51.7" fill="#b0a3cd"/><rect x="420.67" y="344.3" width="1.1" height="51.7" fill="#f2a8aa"/><rect x="421.75" y="344.3" width="0.56" height="51.7" fill="#ab9eca"/><rect x="422.29" y="344.3" width="0.56" height="51.7" fill="#f2acaf"/><rect x="422.83" y="344.3" width="1.1" height="51.7" fill="#a092c4"/><rect x="423.91" y="344.3" width="1.1" height="51.7" fill="#ea6a6f"/><rect x="424.99" y="344.3" width="0.56" height="51.7" fill="#f4b6b8"/><rect x="425.53" y="344.3" width="1.1" height="51.7" fill="#ef9699"/><rect x="426.62" y="344.3" width="0.56" height="51.7" fill="#aa9cca"/><rect x="427.16" y="344.3" width="0.56" height="51.7" fill="#f8dadb"/><rect x="427.7" y="344.3" width="0.56" height="51.7" fill="#ed8488"/><rect x="428.24" y="344.3" width="1.1" height="51.7" fill="#e64a4f"/><rect x="429.32" y="344.3" width="1.1" height="51.7" fill="#f2acae"/><rect x="430.4" y="344.3" width="0.56" height="51.7" fill="#f2adb0"/><rect x="430.94" y="344.3" width="1.1" height="51.7" fill="#9c8ec1"/><rect x="432.02" y="344.3" width="0.56" height="51.7" fill="#f3b0b3"/><rect x="432.57" y="344.3" width="1.1" height="51.7" fill="#8274b2"/><rect x="433.65" y="344.3" width="1.1" height="51.7" fill="#ed8286"/><rect x="434.73" y="344.3" width="1.1" height="51.7" fill="#ec7c80"/><rect x="435.81" y="344.3" width="1.1" height="51.7" fill="#afa2cd"/><rect x="436.89" y="344.3" width="1.1" height="51.7" fill="#f1a3a5"/><rect x="437.97" y="344.3" width="1.1" height="51.7" fill="#f2a8ab"/><rect x="439.05" y="344.3" width="1.64" height="51.7" fill="#c5bcdb"/><rect x="440.68" y="344.3" width="0.56" height="51.7" fill="#998bc0"/><rect x="441.22" y="344.3" width="0.56" height="51.7" fill="#f09ea0"/><rect x="441.76" y="344.3" width="1.1" height="51.7" fill="#988abf"/><rect x="442.84" y="344.3" width="1.64" height="51.7" fill="#9f91c3"/><rect x="444.46" y="344.3" width="1.1" height="51.7" fill="#9587bd"/><rect x="445.54" y="344.3" width="1.1" height="51.7" fill="#8072b1"/><rect x="446.63" y="344.3" width="1.1" height="51.7" fill="#afa2cd"/><rect x="447.71" y="344.3" width="1.64" height="51.7" fill="#9e90c2"/><rect x="449.33" y="344.3" width="1.1" height="51.7" fill="#ee8d90"/><rect x="450.41" y="344.3" width="1.1" height="51.7" fill="#ea6c70"/><rect x="451.49" y="344.3" width="1.1" height="51.7" fill="#a193c4"/><rect x="452.57" y="344.3" width="0.56" height="51.7" fill="#a496c6"/><rect x="453.12" y="344.3" width="0.56" height="51.7" fill="#f3b2b5"/><rect x="453.66" y="344.3" width="1.64" height="51.7" fill="#ef9396"/><rect x="455.28" y="344.3" width="1.64" height="51.7" fill="#9f91c3"/><rect x="456.9" y="344.3" width="0.56" height="51.7" fill="#ec7e82"/><rect x="457.44" y="344.3" width="1.1" height="51.7" fill="#ee8b8f"/><rect x="458.52" y="344.3" width="1.64" height="51.7" fill="#a597c6"/><rect x="460.15" y="344.3" width="0.56" height="51.7" fill="#9385bc"/><rect x="460.69" y="344.3" width="1.1" height="51.7" fill="#f2a9ab"/><rect x="461.77" y="344.3" width="1.1" height="51.7" fill="#a496c6"/><rect x="462.85" y="344.3" width="1.1" height="51.7" fill="#f9dedf"/><rect x="463.93" y="344.3" width="1.1" height="51.7" fill="#f5bfc2"/><rect x="465.01" y="344.3" width="1.1" height="51.7" fill="#f0999c"/><rect x="466.09" y="344.3" width="1.1" height="51.7" fill="#f4babd"/><rect x="467.18" y="344.3" width="1.1" height="51.7" fill="#ee8c90"/><rect x="468.26" y="344.3" width="0.56" height="51.7" fill="#a496c6"/><rect x="468.8" y="344.3" width="1.64" height="51.7" fill="#ee888b"/><rect x="470.42" y="344.3" width="1.1" height="51.7" fill="#f19fa2"/><rect x="471.5" y="344.3" width="1.64" height="51.7" fill="#897bb6"/><rect x="473.13" y="344.3" width="1.1" height="51.7" fill="#ea6c71"/><rect x="474.21" y="344.3" width="1.64" height="51.7" fill="#9c8ec1"/><rect x="475.83" y="344.3" width="0.56" height="51.7" fill="#eb767a"/><rect x="476.37" y="344.3" width="0.56" height="51.7" fill="#a89bc9"/><rect x="476.91" y="344.3" width="0.56" height="51.7" fill="#ec787c"/><rect x="477.45" y="344.3" width="1.64" height="51.7" fill="#ef9598"/><rect x="479.07" y="344.3" width="1.1" height="51.7" fill="#f1a2a5"/><rect x="480.16" y="344.3" width="0.56" height="51.7" fill="#c0b6d7"/><rect x="480.7" y="344.3" width="0.56" height="51.7" fill="#b1a5ce"/><rect x="481.24" y="344.3" width="0.56" height="51.7" fill="#a496c6"/><rect x="481.78" y="344.3" width="1.64" height="51.7" fill="#a294c5"/><rect x="483.4" y="344.3" width="1.1" height="51.7" fill="#f5c3c5"/><rect x="484.48" y="344.3" width="0.56" height="51.7" fill="#f2aeb0"/><rect x="485.02" y="344.3" width="1.1" height="51.7" fill="#f4babd"/><rect x="486.1" y="344.3" width="0.56" height="51.7" fill="#ed8185"/><rect x="486.65" y="344.3" width="1.1" height="51.7" fill="#ef9295"/><rect x="487.73" y="344.3" width="1.64" height="51.7" fill="#f0989b"/><rect x="489.35" y="344.3" width="0.56" height="51.7" fill="#f3b6b8"/><rect x="489.89" y="344.3" width="1.1" height="51.7" fill="#f6c5c7"/><rect x="490.97" y="344.3" width="1.1" height="51.7" fill="#bab0d4"/><rect x="492.05" y="344.3" width="0.56" height="51.7" fill="#f2a8ab"/><rect x="492.59" y="344.3" width="1.1" height="51.7" fill="#ee8e91"/><rect x="493.68" y="344.3" width="0.56" height="51.7" fill="#ef9195"/><rect x="494.22" y="344.3" width="1.1" height="51.7" fill="#9b8dc1"/><rect x="495.3" y="344.3" width="0.56" height="51.7" fill="#8577b4"/><rect x="495.84" y="344.3" width="1.1" height="51.7" fill="#f2abae"/><rect x="496.92" y="344.3" width="1.1" height="51.7" fill="#ac9fcb"/><rect x="498" y="344.3" width="1.1" height="51.7" fill="#f09c9f"/><rect x="499.08" y="344.3" width="0.56" height="51.7" fill="#f3b0b2"/><rect x="499.62" y="344.3" width="0.56" height="51.7" fill="#afa3cd"/><rect x="500.17" y="344.3" width="1.64" height="51.7" fill="#a193c4"/><rect x="501.79" y="344.3" width="0.56" height="51.7" fill="#a092c4"/><rect x="502.33" y="344.3" width="1.64" height="51.7" fill="#ee8e91"/><rect x="503.95" y="344.3" width="0.56" height="51.7" fill="#fcf5f6"/><rect x="504.49" y="344.3" width="0.56" height="51.7" fill="#9f91c3"/><rect x="505.03" y="344.3" width="1.1" height="51.7" fill="#9b8dc1"/><rect x="506.11" y="344.3" width="0.56" height="51.7" fill="#ec7e82"/><rect x="506.65" y="344.3" width="0.56" height="51.7" fill="#9b8dc1"/><rect x="507.2" y="344.3" width="0.56" height="51.7" fill="#ef9093"/><rect x="507.74" y="344.3" width="1.1" height="51.7" fill="#ed868a"/><rect x="508.82" y="344.3" width="1.1" height="51.7" fill="#8a7cb7"/><rect x="509.9" y="344.3" width="1.1" height="51.7" fill="#8072b1"/><rect x="510.98" y="344.3" width="1.64" height="51.7" fill="#d5cee5"/><rect x="512.6" y="344.3" width="0.56" height="51.7" fill="#ed8185"/><rect x="513.14" y="344.3" width="1.64" height="51.7" fill="#ea6b6f"/><rect x="514.77" y="344.3" width="0.56" height="51.7" fill="#b6aad1"/><rect x="515.31" y="344.3" width="1.1" height="51.7" fill="#8375b3"/><rect x="516.39" y="344.3" width="1.1" height="51.7" fill="#9e90c2"/><rect x="517.47" y="344.3" width="0.56" height="51.7" fill="#ef9598"/><rect x="518.01" y="344.3" width="0.56" height="51.7" fill="#a395c5"/><rect x="518.55" y="344.3" width="0.56" height="51.7" fill="#8779b5"/><rect x="519.09" y="344.3" width="0.56" height="51.7" fill="#f09fa2"/><rect x="519.63" y="344.3" width="0.56" height="51.7" fill="#f7ced0"/><rect x="520.17" y="344.3" width="1.64" height="51.7" fill="#f09da0"/><rect x="521.8" y="344.3" width="1.1" height="51.7" fill="#f5c5c7"/><rect x="522.88" y="344.3" width="0.56" height="51.7" fill="#ee8f92"/><rect x="523.42" y="344.3" width="1.1" height="51.7" fill="#f1a3a6"/><rect x="524.5" y="344.3" width="1.1" height="51.7" fill="#f3aeb1"/><rect x="525.58" y="344.3" width="1.1" height="51.7" fill="#8577b4"/><rect x="526.66" y="344.3" width="0.56" height="51.7" fill="#f19fa2"/><rect x="527.21" y="344.3" width="1.64" height="51.7" fill="#f4bbbd"/><rect x="528.83" y="344.3" width="0.56" height="51.7" fill="#baafd4"/><rect x="529.37" y="344.3" width="1.1" height="51.7" fill="#f1a4a7"/><rect x="530.45" y="344.3" width="0.56" height="51.7" fill="#8d7fb8"/><rect x="530.99" y="344.3" width="0.56" height="51.7" fill="#f2aeb1"/><rect x="531.53" y="344.3" width="0.56" height="51.7" fill="#ef9295"/><rect x="532.07" y="344.3" width="1.1" height="51.7" fill="#ef9498"/><rect x="533.15" y="344.3" width="1.1" height="51.7" fill="#f09ea1"/><rect x="534.24" y="344.3" width="1.1" height="51.7" fill="#ef9093"/><rect x="535.32" y="344.3" width="1.1" height="51.7" fill="#8577b4"/><rect x="536.4" y="344.3" width="1.64" height="51.7" fill="#f4bdbf"/><rect x="538.02" y="344.3" width="0.56" height="51.7" fill="#f1a5a7"/><rect x="538.56" y="344.3" width="1.1" height="51.7" fill="#bbb1d5"/><rect x="539.64" y="344.3" width="1.1" height="51.7" fill="#cdc4df"/><rect x="540.73" y="344.3" width="1.1" height="51.7" fill="#f7d0d2"/><rect x="541.81" y="344.3" width="1.64" height="51.7" fill="#bbb0d4"/><rect x="543.43" y="344.3" width="1.1" height="51.7" fill="#f2acaf"/><rect x="544.51" y="344.3" width="0.56" height="51.7" fill="#b3a8d0"/><rect x="545.05" y="344.3" width="1.1" height="51.7" fill="#f6c8ca"/><rect x="546.13" y="344.3" width="1.1" height="51.7" fill="#ee8f92"/><rect x="547.22" y="344.3" width="1.1" height="51.7" fill="#ada1cc"/><rect x="548.3" y="344.3" width="1.1" height="51.7" fill="#ee8d91"/><rect x="549.38" y="344.3" width="0.56" height="51.7" fill="#eb787c"/><rect x="549.92" y="344.3" width="1.64" height="51.7" fill="#b1a4ce"/><rect x="551.54" y="344.3" width="1.1" height="51.7" fill="#a597c7"/><rect x="552.62" y="344.3" width="0.56" height="51.7" fill="#a395c6"/><rect x="553.16" y="344.3" width="0.56" height="51.7" fill="#f2adb0"/><rect x="553.7" y="344.3" width="1.1" height="51.7" fill="#ea6d71"/><rect x="554.79" y="344.3" width="0.56" height="51.7" fill="#9486bd"/><rect x="555.33" y="344.3" width="0.56" height="51.7" fill="#cfc7e1"/><rect x="555.87" y="344.3" width="0.56" height="51.7" fill="#ef9699"/><rect x="556.41" y="344.3" width="0.56" height="51.7" fill="#f0999c"/><rect x="556.95" y="344.3" width="1.1" height="51.7" fill="#beb4d7"/><rect x="558.03" y="344.3" width="1.1" height="51.7" fill="#bbb0d4"/><rect x="559.11" y="344.3" width="1.1" height="51.7" fill="#beb4d6"/><rect x="560.19" y="344.3" width="1.1" height="51.7" fill="#f3b0b2"/><rect x="561.28" y="344.3" width="1.1" height="51.7" fill="#f09a9d"/><rect x="562.36" y="344.3" width="1.64" height="51.7" fill="#f1a2a5"/><rect x="563.98" y="344.3" width="1.1" height="51.7" fill="#7f71b1"/><rect x="565.06" y="344.3" width="0.56" height="51.7" fill="#b3a8d0"/><rect x="565.6" y="344.3" width="1.1" height="51.7" fill="#d6cfe5"/><rect x="566.68" y="344.3" width="1.1" height="51.7" fill="#f9dcde"/><rect x="567.77" y="344.3" width="0.56" height="51.7" fill="#f2adaf"/><rect x="568.31" y="344.3" width="0.56" height="51.7" fill="#ec7e82"/><rect x="568.85" y="344.3" width="1.1" height="51.7" fill="#f2aaad"/><rect x="569.93" y="344.3" width="0.56" height="51.7" fill="#ef9093"/><rect x="570.47" y="344.3" width="1.1" height="51.7" fill="#ee8e92"/><rect x="571.55" y="344.3" width="1.1" height="51.7" fill="#f3b0b3"/><rect x="572.63" y="344.3" width="1.64" height="51.7" fill="#988abf"/><rect x="574.26" y="344.3" width="0.56" height="51.7" fill="#f1a4a7"/><rect x="574.8" y="344.3" width="1.1" height="51.7" fill="#ee8d91"/><rect x="575.88" y="344.3" width="1.64" height="51.7" fill="#ee8a8d"/>
<rect x="348.2" y="396" width="1.1" height="51.9" fill="#c5bcdb"/><rect x="349.28" y="396" width="0.56" height="51.9" fill="#c2b8d9"/><rect x="349.82" y="396" width="1.1" height="51.9" fill="#cbc3df"/><rect x="350.9" y="396" width="1.1" height="51.9" fill="#c9c0dd"/><rect x="351.99" y="396" width="1.64" height="51.9" fill="#c4bbda"/><rect x="353.61" y="396" width="0.56" height="51.9" fill="#cdc4e0"/><rect x="354.15" y="396" width="1.64" height="51.9" fill="#b8add3"/><rect x="355.77" y="396" width="1.1" height="51.9" fill="#cdc4df"/><rect x="356.85" y="396" width="1.1" height="51.9" fill="#c2b9d9"/><rect x="357.93" y="396" width="0.56" height="51.9" fill="#b4a9d0"/><rect x="358.48" y="396" width="1.64" height="51.9" fill="#beb3d6"/><rect x="360.1" y="396" width="1.1" height="51.9" fill="#cac2de"/><rect x="361.18" y="396" width="1.1" height="51.9" fill="#ccc3df"/><rect x="362.26" y="396" width="1.1" height="51.9" fill="#c5bcdb"/><rect x="363.34" y="396" width="0.56" height="51.9" fill="#cac1de"/><rect x="363.88" y="396" width="1.1" height="51.9" fill="#c8bfdc"/><rect x="364.96" y="396" width="1.1" height="51.9" fill="#c7bedc"/><rect x="366.05" y="396" width="1.1" height="51.9" fill="#cec6e0"/><rect x="367.13" y="396" width="1.64" height="51.9" fill="#c2b8d9"/><rect x="368.75" y="396" width="0.56" height="51.9" fill="#b2a6cf"/><rect x="369.29" y="396" width="1.1" height="51.9" fill="#c9c0dd"/><rect x="370.37" y="396" width="0.56" height="51.9" fill="#c5bcdb"/><rect x="370.91" y="396" width="0.56" height="51.9" fill="#c5bcdb"/><rect x="371.45" y="396" width="0.56" height="51.9" fill="#bdb3d6"/><rect x="372" y="396" width="0.56" height="51.9" fill="#c3b9d9"/><rect x="372.54" y="396" width="1.1" height="51.9" fill="#c2b8d9"/><rect x="373.62" y="396" width="0.56" height="51.9" fill="#c8bfdc"/><rect x="374.16" y="396" width="1.1" height="51.9" fill="#c3bada"/><rect x="375.24" y="396" width="0.56" height="51.9" fill="#f0ecf6"/><rect x="375.78" y="396" width="1.1" height="51.9" fill="#eb777b"/><rect x="376.86" y="396" width="1.64" height="51.9" fill="#eb7276"/><rect x="378.48" y="396" width="1.64" height="51.9" fill="#dad3e8"/><rect x="380.11" y="396" width="1.64" height="51.9" fill="#e1dbec"/><rect x="381.73" y="396" width="1.64" height="51.9" fill="#dcd6e9"/><rect x="383.35" y="396" width="0.56" height="51.9" fill="#d4cde4"/><rect x="383.89" y="396" width="0.56" height="51.9" fill="#d1cae2"/><rect x="384.43" y="396" width="1.1" height="51.9" fill="#d4cde4"/><rect x="385.52" y="396" width="0.56" height="51.9" fill="#cfc7e1"/><rect x="386.06" y="396" width="0.56" height="51.9" fill="#cdc5e0"/><rect x="386.6" y="396" width="0.56" height="51.9" fill="#f6c6c8"/><rect x="387.14" y="396" width="1.64" height="51.9" fill="#d1c9e2"/><rect x="388.76" y="396" width="0.56" height="51.9" fill="#f3b3b6"/><rect x="389.3" y="396" width="1.1" height="51.9" fill="#dcd6e9"/><rect x="390.38" y="396" width="1.1" height="51.9" fill="#cec6e0"/><rect x="391.46" y="396" width="1.64" height="51.9" fill="#d3cce4"/><rect x="393.09" y="396" width="0.56" height="51.9" fill="#d0c8e2"/><rect x="393.63" y="396" width="1.64" height="51.9" fill="#cac1de"/><rect x="395.25" y="396" width="1.1" height="51.9" fill="#e5e0ef"/><rect x="396.33" y="396" width="1.64" height="51.9" fill="#c7bedc"/><rect x="397.95" y="396" width="1.1" height="51.9" fill="#d4cde4"/><rect x="399.04" y="396" width="1.1" height="51.9" fill="#dbd5e9"/><rect x="400.12" y="396" width="1.1" height="51.9" fill="#e4dfee"/><rect x="401.2" y="396" width="0.56" height="51.9" fill="#f2acae"/><rect x="401.74" y="396" width="1.1" height="51.9" fill="#ebe7f3"/><rect x="402.82" y="396" width="1.1" height="51.9" fill="#e3deee"/><rect x="403.9" y="396" width="1.1" height="51.9" fill="#ec7c80"/><rect x="404.98" y="396" width="0.56" height="51.9" fill="#e7e2f0"/><rect x="405.52" y="396" width="1.1" height="51.9" fill="#c9c0dd"/><rect x="406.61" y="396" width="0.56" height="51.9" fill="#cec6e1"/><rect x="407.15" y="396" width="1.1" height="51.9" fill="#f4b7ba"/><rect x="408.23" y="396" width="1.1" height="51.9" fill="#c6bcdb"/><rect x="409.31" y="396" width="0.56" height="51.9" fill="#f9dee0"/><rect x="409.85" y="396" width="1.64" height="51.9" fill="#e5e0ef"/><rect x="411.47" y="396" width="1.64" height="51.9" fill="#cac1de"/><rect x="413.1" y="396" width="1.64" height="51.9" fill="#e8e3f0"/><rect x="414.72" y="396" width="1.1" height="51.9" fill="#ccc4df"/><rect x="415.8" y="396" width="1.1" height="51.9" fill="#f09c9f"/><rect x="416.88" y="396" width="1.64" height="51.9" fill="#ef9497"/><rect x="418.5" y="396" width="0.56" height="51.9" fill="#c2b8d9"/><rect x="419.05" y="396" width="1.1" height="51.9" fill="#d1c9e2"/><rect x="420.13" y="396" width="0.56" height="51.9" fill="#ded8eb"/><rect x="420.67" y="396" width="0.56" height="51.9" fill="#f09da0"/><rect x="421.21" y="396" width="0.56" height="51.9" fill="#cfc7e1"/><rect x="421.75" y="396" width="0.56" height="51.9" fill="#e1dbec"/><rect x="422.29" y="396" width="0.56" height="51.9" fill="#f0edf6"/><rect x="422.83" y="396" width="1.1" height="51.9" fill="#d2cbe3"/><rect x="423.91" y="396" width="0.56" height="51.9" fill="#ded8eb"/><rect x="424.45" y="396" width="0.56" height="51.9" fill="#ded8ea"/><rect x="424.99" y="396" width="1.64" height="51.9" fill="#cac1de"/><rect x="426.62" y="396" width="0.56" height="51.9" fill="#d7d0e6"/><rect x="427.16" y="396" width="1.1" height="51.9" fill="#c9c0dd"/><rect x="428.24" y="396" width="1.1" height="51.9" fill="#e8e4f1"/><rect x="429.32" y="396" width="1.1" height="51.9" fill="#cbc2de"/><rect x="430.4" y="396" width="1.1" height="51.9" fill="#ef9195"/><rect x="431.48" y="396" width="1.1" height="51.9" fill="#e0daeb"/><rect x="432.57" y="396" width="1.1" height="51.9" fill="#cfc7e1"/><rect x="433.65" y="396" width="0.56" height="51.9" fill="#f4bbbd"/><rect x="434.19" y="396" width="1.1" height="51.9" fill="#cfc6e1"/><rect x="435.27" y="396" width="0.56" height="51.9" fill="#c8bfdc"/><rect x="435.81" y="396" width="1.1" height="51.9" fill="#ddd7ea"/><rect x="436.89" y="396" width="0.56" height="51.9" fill="#e4deee"/><rect x="437.43" y="396" width="1.64" height="51.9" fill="#e3deed"/><rect x="439.05" y="396" width="0.56" height="51.9" fill="#f3b1b3"/><rect x="439.6" y="396" width="0.56" height="51.9" fill="#f4b7ba"/><rect x="440.14" y="396" width="1.64" height="51.9" fill="#cfc7e1"/><rect x="441.76" y="396" width="1.1" height="51.9" fill="#d9d2e7"/><rect x="442.84" y="396" width="1.1" height="51.9" fill="#f2abae"/><rect x="443.92" y="396" width="1.64" height="51.9" fill="#c7bedc"/><rect x="445.54" y="396" width="0.56" height="51.9" fill="#cdc5e0"/><rect x="446.09" y="396" width="1.64" height="51.9" fill="#efecf5"/><rect x="447.71" y="396" width="0.56" height="51.9" fill="#e9656a"/><rect x="448.25" y="396" width="1.1" height="51.9" fill="#f0989b"/><rect x="449.33" y="396" width="1.1" height="51.9" fill="#dcd6e9"/><rect x="450.41" y="396" width="0.56" height="51.9" fill="#d1c9e2"/><rect x="450.95" y="396" width="1.64" height="51.9" fill="#d7d0e6"/><rect x="452.57" y="396" width="0.56" height="51.9" fill="#c7bddc"/><rect x="453.12" y="396" width="1.64" height="51.9" fill="#e1dcec"/><rect x="454.74" y="396" width="1.64" height="51.9" fill="#dcd6e9"/><rect x="456.36" y="396" width="0.56" height="51.9" fill="#d5cee5"/><rect x="456.9" y="396" width="1.64" height="51.9" fill="#cec6e0"/><rect x="458.52" y="396" width="1.64" height="51.9" fill="#c9c0dd"/><rect x="460.15" y="396" width="0.56" height="51.9" fill="#f1a6a9"/><rect x="460.69" y="396" width="0.56" height="51.9" fill="#e0daeb"/><rect x="461.23" y="396" width="1.1" height="51.9" fill="#c9c0dd"/><rect x="462.31" y="396" width="0.56" height="51.9" fill="#d5cee5"/><rect x="462.85" y="396" width="1.1" height="51.9" fill="#d0c8e2"/><rect x="463.93" y="396" width="1.1" height="51.9" fill="#d6cfe5"/><rect x="465.01" y="396" width="0.56" height="51.9" fill="#f4bcbe"/><rect x="465.55" y="396" width="0.56" height="51.9" fill="#eb7579"/><rect x="466.09" y="396" width="1.64" height="51.9" fill="#ccc4df"/><rect x="467.72" y="396" width="0.56" height="51.9" fill="#c6bddb"/><rect x="468.26" y="396" width="1.1" height="51.9" fill="#d9d3e7"/><rect x="469.34" y="396" width="1.64" height="51.9" fill="#cbc2de"/><rect x="470.96" y="396" width="1.64" height="51.9" fill="#d8d1e7"/><rect x="472.58" y="396" width="1.1" height="51.9" fill="#c7bddc"/><rect x="473.67" y="396" width="0.56" height="51.9" fill="#f6ccce"/><rect x="474.21" y="396" width="1.64" height="51.9" fill="#d7d0e6"/><rect x="475.83" y="396" width="1.1" height="51.9" fill="#ccc4df"/><rect x="476.91" y="396" width="1.64" height="51.9" fill="#d0c8e2"/><rect x="478.53" y="396" width="0.56" height="51.9" fill="#d3cce4"/><rect x="479.07" y="396" width="0.56" height="51.9" fill="#dfd9eb"/><rect x="479.61" y="396" width="1.64" height="51.9" fill="#d8d1e6"/><rect x="481.24" y="396" width="0.56" height="51.9" fill="#f3b5b8"/><rect x="481.78" y="396" width="1.64" height="51.9" fill="#cbc2de"/><rect x="483.4" y="396" width="1.1" height="51.9" fill="#dad4e8"/><rect x="484.48" y="396" width="1.1" height="51.9" fill="#dfd9eb"/><rect x="485.56" y="396" width="0.56" height="51.9" fill="#c0b6d8"/><rect x="486.1" y="396" width="1.64" height="51.9" fill="#e0dbec"/><rect x="487.73" y="396" width="0.56" height="51.9" fill="#e8e3f0"/><rect x="488.27" y="396" width="1.1" height="51.9" fill="#d1c9e2"/><rect x="489.35" y="396" width="1.64" height="51.9" fill="#f6c8ca"/><rect x="490.97" y="396" width="1.64" height="51.9" fill="#e5e1ef"/><rect x="492.59" y="396" width="0.56" height="51.9" fill="#d9d2e7"/><rect x="493.13" y="396" width="0.56" height="51.9" fill="#d7d0e6"/><rect x="493.68" y="396" width="1.1" height="51.9" fill="#f6ccce"/><rect x="494.76" y="396" width="0.56" height="51.9" fill="#ded8ea"/><rect x="495.3" y="396" width="1.64" height="51.9" fill="#d8d1e6"/><rect x="496.92" y="396" width="0.56" height="51.9" fill="#e1dbec"/><rect x="497.46" y="396" width="1.1" height="51.9" fill="#ded8eb"/><rect x="498.54" y="396" width="0.56" height="51.9" fill="#bdb3d6"/><rect x="499.08" y="396" width="1.1" height="51.9" fill="#dad3e8"/><rect x="500.17" y="396" width="1.1" height="51.9" fill="#e5e1ef"/><rect x="501.25" y="396" width="0.56" height="51.9" fill="#f3b4b6"/><rect x="501.79" y="396" width="0.56" height="51.9" fill="#ee8a8d"/><rect x="502.33" y="396" width="0.56" height="51.9" fill="#dfdaeb"/><rect x="502.87" y="396" width="0.56" height="51.9" fill="#f2adb0"/><rect x="503.41" y="396" width="0.56" height="51.9" fill="#fae5e6"/><rect x="503.95" y="396" width="0.56" height="51.9" fill="#d0c8e2"/><rect x="504.49" y="396" width="1.1" height="51.9" fill="#f6cacc"/><rect x="505.57" y="396" width="1.64" height="51.9" fill="#d3cce4"/><rect x="507.2" y="396" width="1.1" height="51.9" fill="#eb777b"/><rect x="508.28" y="396" width="0.56" height="51.9" fill="#d6cfe5"/><rect x="508.82" y="396" width="0.56" height="51.9" fill="#f7cdcf"/><rect x="509.36" y="396" width="1.64" height="51.9" fill="#d9d2e7"/><rect x="510.98" y="396" width="1.1" height="51.9" fill="#e9e5f1"/><rect x="512.06" y="396" width="1.1" height="51.9" fill="#cec6e0"/><rect x="513.14" y="396" width="0.56" height="51.9" fill="#dbd5e9"/><rect x="513.69" y="396" width="1.64" height="51.9" fill="#d4cce4"/><rect x="515.31" y="396" width="0.56" height="51.9" fill="#e0daec"/><rect x="515.85" y="396" width="1.64" height="51.9" fill="#d5cde5"/><rect x="517.47" y="396" width="1.1" height="51.9" fill="#cec5e0"/><rect x="518.55" y="396" width="0.56" height="51.9" fill="#cdc4e0"/><rect x="519.09" y="396" width="0.56" height="51.9" fill="#e0dbec"/><rect x="519.63" y="396" width="1.1" height="51.9" fill="#e1dbec"/><rect x="520.72" y="396" width="0.56" height="51.9" fill="#d0c8e2"/><rect x="521.26" y="396" width="1.64" height="51.9" fill="#e4dfee"/><rect x="522.88" y="396" width="1.1" height="51.9" fill="#d0c8e2"/><rect x="523.96" y="396" width="1.1" height="51.9" fill="#e2dded"/><rect x="525.04" y="396" width="1.1" height="51.9" fill="#e0dbec"/><rect x="526.12" y="396" width="0.56" height="51.9" fill="#d5cee5"/><rect x="526.66" y="396" width="1.1" height="51.9" fill="#d2cae3"/><rect x="527.75" y="396" width="1.64" height="51.9" fill="#e0dbec"/><rect x="529.37" y="396" width="0.56" height="51.9" fill="#ed8589"/><rect x="529.91" y="396" width="1.1" height="51.9" fill="#e4dfee"/><rect x="530.99" y="396" width="0.56" height="51.9" fill="#d0c8e2"/><rect x="531.53" y="396" width="0.56" height="51.9" fill="#c0b6d8"/><rect x="532.07" y="396" width="1.1" height="51.9" fill="#e4dfee"/><rect x="533.15" y="396" width="0.56" height="51.9" fill="#dad4e8"/><rect x="533.7" y="396" width="1.1" height="51.9" fill="#d7d0e6"/><rect x="534.78" y="396" width="1.1" height="51.9" fill="#ccc3df"/><rect x="535.86" y="396" width="0.56" height="51.9" fill="#ddd6ea"/><rect x="536.4" y="396" width="0.56" height="51.9" fill="#e3deee"/><rect x="536.94" y="396" width="1.64" height="51.9" fill="#cdc4df"/><rect x="538.56" y="396" width="1.1" height="51.9" fill="#cfc8e1"/><rect x="539.64" y="396" width="1.1" height="51.9" fill="#d6cfe5"/><rect x="540.73" y="396" width="1.1" height="51.9" fill="#d5cde5"/><rect x="541.81" y="396" width="1.64" height="51.9" fill="#d4cce4"/><rect x="543.43" y="396" width="1.1" height="51.9" fill="#f8d8d9"/><rect x="544.51" y="396" width="1.1" height="51.9" fill="#f6c7c9"/><rect x="545.59" y="396" width="1.1" height="51.9" fill="#dcd6e9"/><rect x="546.67" y="396" width="0.56" height="51.9" fill="#e0dbec"/><rect x="547.22" y="396" width="1.1" height="51.9" fill="#ddd7ea"/><rect x="548.3" y="396" width="1.1" height="51.9" fill="#cec6e1"/><rect x="549.38" y="396" width="0.56" height="51.9" fill="#d0c8e1"/><rect x="549.92" y="396" width="1.1" height="51.9" fill="#d7d0e6"/><rect x="551" y="396" width="1.64" height="51.9" fill="#d5cee5"/><rect x="552.62" y="396" width="1.1" height="51.9" fill="#f1a3a5"/><rect x="553.7" y="396" width="1.1" height="51.9" fill="#ee8a8e"/><rect x="554.79" y="396" width="1.64" height="51.9" fill="#dad4e8"/><rect x="556.41" y="396" width="1.1" height="51.9" fill="#cbc2de"/><rect x="557.49" y="396" width="1.1" height="51.9" fill="#cec6e0"/><rect x="558.57" y="396" width="1.1" height="51.9" fill="#fae9ea"/><rect x="559.65" y="396" width="0.56" height="51.9" fill="#d9d2e7"/><rect x="560.19" y="396" width="1.64" height="51.9" fill="#cfc7e1"/><rect x="561.82" y="396" width="0.56" height="51.9" fill="#d2cae3"/><rect x="562.36" y="396" width="0.56" height="51.9" fill="#f3b5b7"/><rect x="562.9" y="396" width="1.1" height="51.9" fill="#e4dfee"/><rect x="563.98" y="396" width="1.64" height="51.9" fill="#dad3e8"/><rect x="565.6" y="396" width="1.1" height="51.9" fill="#e9e5f2"/><rect x="566.68" y="396" width="1.1" height="51.9" fill="#d2cae3"/><rect x="567.77" y="396" width="1.64" height="51.9" fill="#ccc4df"/><rect x="569.39" y="396" width="1.1" height="51.9" fill="#d8d2e7"/><rect x="570.47" y="396" width="0.56" height="51.9" fill="#e4dfee"/><rect x="571.01" y="396" width="1.64" height="51.9" fill="#f5c0c2"/><rect x="572.63" y="396" width="1.1" height="51.9" fill="#f5bec0"/><rect x="573.71" y="396" width="1.1" height="51.9" fill="#d5cee5"/><rect x="574.8" y="396" width="0.56" height="51.9" fill="#c4bada"/><rect x="575.34" y="396" width="0.56" height="51.9" fill="#f0989c"/><rect x="575.88" y="396" width="0.56" height="51.9" fill="#ddd7ea"/><rect x="576.42" y="396" width="1.1" height="51.9" fill="#d0c9e2"/>
<rect x="348.2" y="447.9" width="1.64" height="51.7" fill="#bdb2d6"/><rect x="349.82" y="447.9" width="1.1" height="51.7" fill="#8d7fb9"/><rect x="350.9" y="447.9" width="0.56" height="51.7" fill="#cbc3df"/><rect x="351.44" y="447.9" width="1.1" height="51.7" fill="#b1a5ce"/><rect x="352.53" y="447.9" width="0.56" height="51.7" fill="#b7acd2"/><rect x="353.07" y="447.9" width="1.1" height="51.7" fill="#afa2cd"/><rect x="354.15" y="447.9" width="0.56" height="51.7" fill="#a79ac8"/><rect x="354.69" y="447.9" width="1.1" height="51.7" fill="#b8add3"/><rect x="355.77" y="447.9" width="0.56" height="51.7" fill="#a294c5"/><rect x="356.31" y="447.9" width="1.64" height="51.7" fill="#beb3d6"/><rect x="357.93" y="447.9" width="1.1" height="51.7" fill="#9b8dc1"/><rect x="359.02" y="447.9" width="0.56" height="51.7" fill="#ada0cb"/><rect x="359.56" y="447.9" width="1.64" height="51.7" fill="#a294c5"/><rect x="361.18" y="447.9" width="1.1" height="51.7" fill="#c3b9d9"/><rect x="362.26" y="447.9" width="1.64" height="51.7" fill="#afa3cd"/><rect x="363.88" y="447.9" width="1.1" height="51.7" fill="#8b7db8"/><rect x="364.96" y="447.9" width="0.56" height="51.7" fill="#a092c4"/><rect x="365.51" y="447.9" width="1.1" height="51.7" fill="#c3b9d9"/><rect x="366.59" y="447.9" width="0.56" height="51.7" fill="#ac9fcb"/><rect x="367.13" y="447.9" width="1.1" height="51.7" fill="#d2cae3"/><rect x="368.21" y="447.9" width="1.64" height="51.7" fill="#bdb3d6"/><rect x="369.83" y="447.9" width="0.56" height="51.7" fill="#cfc7e1"/><rect x="370.37" y="447.9" width="1.64" height="51.7" fill="#c3bada"/><rect x="372" y="447.9" width="1.1" height="51.7" fill="#a89bc9"/><rect x="373.08" y="447.9" width="1.1" height="51.7" fill="#9688be"/><rect x="374.16" y="447.9" width="1.1" height="51.7" fill="#c3b9da"/><rect x="375.24" y="447.9" width="1.1" height="51.7" fill="#f2a8aa"/><rect x="376.32" y="447.9" width="1.1" height="51.7" fill="#f6c9cb"/><rect x="377.4" y="447.9" width="1.64" height="51.7" fill="#b5aad1"/><rect x="379.03" y="447.9" width="0.56" height="51.7" fill="#f2adb0"/><rect x="379.57" y="447.9" width="0.56" height="51.7" fill="#b8acd2"/><rect x="380.11" y="447.9" width="1.1" height="51.7" fill="#c0b6d8"/><rect x="381.19" y="447.9" width="0.56" height="51.7" fill="#ebe7f3"/><rect x="381.73" y="447.9" width="0.56" height="51.7" fill="#beb4d6"/><rect x="382.27" y="447.9" width="1.1" height="51.7" fill="#f4b8ba"/><rect x="383.35" y="447.9" width="0.56" height="51.7" fill="#dcd6e9"/><rect x="383.89" y="447.9" width="1.64" height="51.7" fill="#bcb1d5"/><rect x="385.52" y="447.9" width="0.56" height="51.7" fill="#b7acd2"/><rect x="386.06" y="447.9" width="1.1" height="51.7" fill="#f5c0c3"/><rect x="387.14" y="447.9" width="1.1" height="51.7" fill="#ef9195"/><rect x="388.22" y="447.9" width="0.56" height="51.7" fill="#f7ced0"/><rect x="388.76" y="447.9" width="1.1" height="51.7" fill="#d4cde4"/><rect x="389.84" y="447.9" width="1.64" height="51.7" fill="#a395c5"/><rect x="391.46" y="447.9" width="1.64" height="51.7" fill="#a89ac8"/><rect x="393.09" y="447.9" width="1.1" height="51.7" fill="#f3afb1"/><rect x="394.17" y="447.9" width="0.56" height="51.7" fill="#8a7cb7"/><rect x="394.71" y="447.9" width="0.56" height="51.7" fill="#f8d6d8"/><rect x="395.25" y="447.9" width="0.56" height="51.7" fill="#beb4d7"/><rect x="395.79" y="447.9" width="1.1" height="51.7" fill="#f7d2d4"/><rect x="396.87" y="447.9" width="1.1" height="51.7" fill="#bdb3d6"/><rect x="397.95" y="447.9" width="0.56" height="51.7" fill="#b1a5ce"/><rect x="398.49" y="447.9" width="1.1" height="51.7" fill="#f5bfc1"/><rect x="399.58" y="447.9" width="0.56" height="51.7" fill="#f4b9bc"/><rect x="400.12" y="447.9" width="1.64" height="51.7" fill="#f6c8ca"/><rect x="401.74" y="447.9" width="1.1" height="51.7" fill="#ef9194"/><rect x="402.82" y="447.9" width="1.1" height="51.7" fill="#cbc2de"/><rect x="403.9" y="447.9" width="1.1" height="51.7" fill="#f4b7ba"/><rect x="404.98" y="447.9" width="0.56" height="51.7" fill="#f3b2b5"/><rect x="405.52" y="447.9" width="0.56" height="51.7" fill="#f8d9da"/><rect x="406.07" y="447.9" width="1.1" height="51.7" fill="#bcb2d5"/><rect x="407.15" y="447.9" width="1.1" height="51.7" fill="#f1a5a8"/><rect x="408.23" y="447.9" width="1.1" height="51.7" fill="#f3b4b7"/><rect x="409.31" y="447.9" width="0.56" height="51.7" fill="#f7d3d4"/><rect x="409.85" y="447.9" width="0.56" height="51.7" fill="#f2acaf"/><rect x="410.39" y="447.9" width="1.64" height="51.7" fill="#ed8588"/><rect x="412.01" y="447.9" width="0.56" height="51.7" fill="#f2a8ab"/><rect x="412.56" y="447.9" width="1.1" height="51.7" fill="#d8d1e7"/><rect x="413.64" y="447.9" width="1.1" height="51.7" fill="#b8add3"/><rect x="414.72" y="447.9" width="1.64" height="51.7" fill="#f1a6a9"/><rect x="416.34" y="447.9" width="0.56" height="51.7" fill="#fae7e8"/><rect x="416.88" y="447.9" width="1.1" height="51.7" fill="#f3b5b7"/><rect x="417.96" y="447.9" width="1.64" height="51.7" fill="#dcd6e9"/><rect x="419.59" y="447.9" width="1.64" height="51.7" fill="#f6c6c8"/><rect x="421.21" y="447.9" width="1.1" height="51.7" fill="#fae9eb"/><rect x="422.29" y="447.9" width="0.56" height="51.7" fill="#fbedee"/><rect x="422.83" y="447.9" width="0.56" height="51.7" fill="#f5c4c6"/><rect x="423.37" y="447.9" width="0.56" height="51.7" fill="#dfdaeb"/><rect x="423.91" y="447.9" width="1.64" height="51.7" fill="#f3b2b4"/><rect x="425.53" y="447.9" width="0.56" height="51.7" fill="#f19fa2"/><rect x="426.08" y="447.9" width="1.64" height="51.7" fill="#ea6d72"/><rect x="427.7" y="447.9" width="1.64" height="51.7" fill="#c2b9d9"/><rect x="429.32" y="447.9" width="1.1" height="51.7" fill="#ee8d90"/><rect x="430.4" y="447.9" width="0.56" height="51.7" fill="#f1a3a6"/><rect x="430.94" y="447.9" width="0.56" height="51.7" fill="#f4b9bb"/><rect x="431.48" y="447.9" width="0.56" height="51.7" fill="#f4bbbe"/><rect x="432.02" y="447.9" width="1.64" height="51.7" fill="#f4b7b9"/><rect x="433.65" y="447.9" width="1.64" height="51.7" fill="#b7abd2"/><rect x="435.27" y="447.9" width="0.56" height="51.7" fill="#d3cbe3"/><rect x="435.81" y="447.9" width="0.56" height="51.7" fill="#c4bbda"/><rect x="436.35" y="447.9" width="0.56" height="51.7" fill="#d5cde5"/><rect x="436.89" y="447.9" width="0.56" height="51.7" fill="#f5c3c5"/><rect x="437.43" y="447.9" width="0.56" height="51.7" fill="#cac1de"/><rect x="437.97" y="447.9" width="1.1" height="51.7" fill="#b5a9d1"/><rect x="439.05" y="447.9" width="0.56" height="51.7" fill="#ab9ecb"/><rect x="439.6" y="447.9" width="1.64" height="51.7" fill="#ece8f3"/><rect x="441.22" y="447.9" width="0.56" height="51.7" fill="#a294c5"/><rect x="441.76" y="447.9" width="1.64" height="51.7" fill="#eb7377"/><rect x="443.38" y="447.9" width="1.1" height="51.7" fill="#f6c6c8"/><rect x="444.46" y="447.9" width="0.56" height="51.7" fill="#f8d8da"/><rect x="445" y="447.9" width="1.64" height="51.7" fill="#f4b8ba"/><rect x="446.63" y="447.9" width="0.56" height="51.7" fill="#d2cbe3"/><rect x="447.17" y="447.9" width="1.64" height="51.7" fill="#ee898d"/><rect x="448.79" y="447.9" width="1.1" height="51.7" fill="#b4a8d0"/><rect x="449.87" y="447.9" width="0.56" height="51.7" fill="#e6e1ef"/><rect x="450.41" y="447.9" width="1.1" height="51.7" fill="#c7bedc"/><rect x="451.49" y="447.9" width="1.64" height="51.7" fill="#f8f6fb"/><rect x="453.12" y="447.9" width="0.56" height="51.7" fill="#f4babc"/><rect x="453.66" y="447.9" width="0.56" height="51.7" fill="#f09ea1"/><rect x="454.2" y="447.9" width="0.56" height="51.7" fill="#b4a9d0"/><rect x="454.74" y="447.9" width="0.56" height="51.7" fill="#f4babc"/><rect x="455.28" y="447.9" width="0.56" height="51.7" fill="#ee8a8d"/><rect x="455.82" y="447.9" width="0.56" height="51.7" fill="#f8dbdc"/><rect x="456.36" y="447.9" width="1.1" height="51.7" fill="#8f81ba"/><rect x="457.44" y="447.9" width="0.56" height="51.7" fill="#baafd4"/><rect x="457.98" y="447.9" width="1.1" height="51.7" fill="#e9e5f1"/><rect x="459.06" y="447.9" width="0.56" height="51.7" fill="#a092c4"/><rect x="459.61" y="447.9" width="0.56" height="51.7" fill="#f1a4a6"/><rect x="460.15" y="447.9" width="1.64" height="51.7" fill="#f9e3e4"/><rect x="461.77" y="447.9" width="0.56" height="51.7" fill="#f1a1a4"/><rect x="462.31" y="447.9" width="1.64" height="51.7" fill="#d4cde4"/><rect x="463.93" y="447.9" width="0.56" height="51.7" fill="#d5cee5"/><rect x="464.47" y="447.9" width="0.56" height="51.7" fill="#c5bcdb"/><rect x="465.01" y="447.9" width="0.56" height="51.7" fill="#ec7c80"/><rect x="465.55" y="447.9" width="0.56" height="51.7" fill="#cac1de"/><rect x="466.09" y="447.9" width="0.56" height="51.7" fill="#f6c5c7"/><rect x="466.64" y="447.9" width="0.56" height="51.7" fill="#ef9195"/><rect x="467.18" y="447.9" width="0.56" height="51.7" fill="#c4bada"/><rect x="467.72" y="447.9" width="1.1" height="51.7" fill="#9f91c3"/><rect x="468.8" y="447.9" width="0.56" height="51.7" fill="#f09c9f"/><rect x="469.34" y="447.9" width="0.56" height="51.7" fill="#ef9194"/><rect x="469.88" y="447.9" width="1.1" height="51.7" fill="#f2adb0"/><rect x="470.96" y="447.9" width="0.56" height="51.7" fill="#c3bada"/><rect x="471.5" y="447.9" width="1.1" height="51.7" fill="#ef969a"/><rect x="472.58" y="447.9" width="1.1" height="51.7" fill="#c0b6d8"/><rect x="473.67" y="447.9" width="1.1" height="51.7" fill="#ee8a8e"/><rect x="474.75" y="447.9" width="1.64" height="51.7" fill="#f0989c"/><rect x="476.37" y="447.9" width="0.56" height="51.7" fill="#cac1de"/><rect x="476.91" y="447.9" width="1.1" height="51.7" fill="#f2abad"/><rect x="477.99" y="447.9" width="1.1" height="51.7" fill="#cbc3df"/><rect x="479.07" y="447.9" width="0.56" height="51.7" fill="#f4bdbf"/><rect x="479.61" y="447.9" width="0.56" height="51.7" fill="#eeebf5"/><rect x="480.16" y="447.9" width="0.56" height="51.7" fill="#d1c9e2"/><rect x="480.7" y="447.9" width="1.64" height="51.7" fill="#f3b3b5"/><rect x="482.32" y="447.9" width="1.1" height="51.7" fill="#e4dfee"/><rect x="483.4" y="447.9" width="1.1" height="51.7" fill="#f2abae"/><rect x="484.48" y="447.9" width="0.56" height="51.7" fill="#ee8d91"/><rect x="485.02" y="447.9" width="0.56" height="51.7" fill="#f0999c"/><rect x="485.56" y="447.9" width="0.56" height="51.7" fill="#ada0cc"/><rect x="486.1" y="447.9" width="1.1" height="51.7" fill="#bcb2d5"/><rect x="487.19" y="447.9" width="1.64" height="51.7" fill="#c5bcdb"/><rect x="488.81" y="447.9" width="0.56" height="51.7" fill="#ee898d"/><rect x="489.35" y="447.9" width="0.56" height="51.7" fill="#f1a1a4"/><rect x="489.89" y="447.9" width="1.1" height="51.7" fill="#f1a2a5"/><rect x="490.97" y="447.9" width="0.56" height="51.7" fill="#f4b9bb"/><rect x="491.51" y="447.9" width="1.1" height="51.7" fill="#bfb5d7"/><rect x="492.59" y="447.9" width="0.56" height="51.7" fill="#f9dfe0"/><rect x="493.13" y="447.9" width="0.56" height="51.7" fill="#bdb2d6"/><rect x="493.68" y="447.9" width="1.64" height="51.7" fill="#ef9599"/><rect x="495.3" y="447.9" width="0.56" height="51.7" fill="#ec7d81"/><rect x="495.84" y="447.9" width="1.1" height="51.7" fill="#f4b8ba"/><rect x="496.92" y="447.9" width="0.56" height="51.7" fill="#f4bbbe"/><rect x="497.46" y="447.9" width="0.56" height="51.7" fill="#c7bedc"/><rect x="498" y="447.9" width="0.56" height="51.7" fill="#ada1cc"/><rect x="498.54" y="447.9" width="1.1" height="51.7" fill="#f2a8aa"/><rect x="499.62" y="447.9" width="1.1" height="51.7" fill="#f09ea1"/><rect x="500.71" y="447.9" width="1.64" height="51.7" fill="#a699c7"/><rect x="502.33" y="447.9" width="0.56" height="51.7" fill="#f1a2a5"/><rect x="502.87" y="447.9" width="0.56" height="51.7" fill="#ab9ecb"/><rect x="503.41" y="447.9" width="1.64" height="51.7" fill="#f6c9cb"/><rect x="505.03" y="447.9" width="1.1" height="51.7" fill="#f6ccce"/><rect x="506.11" y="447.9" width="1.1" height="51.7" fill="#ec7a7f"/><rect x="507.2" y="447.9" width="1.1" height="51.7" fill="#beb4d6"/><rect x="508.28" y="447.9" width="1.1" height="51.7" fill="#f4bcbe"/><rect x="509.36" y="447.9" width="0.56" height="51.7" fill="#f3b6b8"/><rect x="509.9" y="447.9" width="1.1" height="51.7" fill="#f19fa2"/><rect x="510.98" y="447.9" width="0.56" height="51.7" fill="#f3afb1"/><rect x="511.52" y="447.9" width="1.1" height="51.7" fill="#f4bcbe"/><rect x="512.6" y="447.9" width="1.64" height="51.7" fill="#d0c9e2"/><rect x="514.23" y="447.9" width="1.1" height="51.7" fill="#d4cde4"/><rect x="515.31" y="447.9" width="0.56" height="51.7" fill="#f9e2e3"/><rect x="515.85" y="447.9" width="0.56" height="51.7" fill="#f3b3b6"/><rect x="516.39" y="447.9" width="1.64" height="51.7" fill="#f2a8ab"/><rect x="518.01" y="447.9" width="0.56" height="51.7" fill="#fae7e8"/><rect x="518.55" y="447.9" width="0.56" height="51.7" fill="#b1a5ce"/><rect x="519.09" y="447.9" width="0.56" height="51.7" fill="#ab9eca"/><rect x="519.63" y="447.9" width="0.56" height="51.7" fill="#d4cde4"/><rect x="520.17" y="447.9" width="1.64" height="51.7" fill="#fae8ea"/><rect x="521.8" y="447.9" width="1.64" height="51.7" fill="#f8dcdd"/><rect x="523.42" y="447.9" width="1.1" height="51.7" fill="#f5c3c5"/><rect x="524.5" y="447.9" width="0.56" height="51.7" fill="#b4a8d0"/><rect x="525.04" y="447.9" width="1.1" height="51.7" fill="#bdb3d6"/><rect x="526.12" y="447.9" width="0.56" height="51.7" fill="#f4bcbe"/><rect x="526.66" y="447.9" width="1.1" height="51.7" fill="#ada0cb"/><rect x="527.75" y="447.9" width="1.1" height="51.7" fill="#d0c8e2"/><rect x="528.83" y="447.9" width="0.56" height="51.7" fill="#c2b9d9"/><rect x="529.37" y="447.9" width="0.56" height="51.7" fill="#c9c0dd"/><rect x="529.91" y="447.9" width="0.56" height="51.7" fill="#ef9194"/><rect x="530.45" y="447.9" width="1.1" height="51.7" fill="#a99cc9"/><rect x="531.53" y="447.9" width="0.56" height="51.7" fill="#d0c8e2"/><rect x="532.07" y="447.9" width="0.56" height="51.7" fill="#b2a5cf"/><rect x="532.61" y="447.9" width="0.56" height="51.7" fill="#bcb1d5"/><rect x="533.15" y="447.9" width="1.1" height="51.7" fill="#f09b9e"/><rect x="534.24" y="447.9" width="0.56" height="51.7" fill="#f5c3c5"/><rect x="534.78" y="447.9" width="1.1" height="51.7" fill="#f3b3b5"/><rect x="535.86" y="447.9" width="1.1" height="51.7" fill="#ddd7ea"/><rect x="536.94" y="447.9" width="1.64" height="51.7" fill="#f4b7b9"/><rect x="538.56" y="447.9" width="1.64" height="51.7" fill="#f09c9f"/><rect x="540.18" y="447.9" width="0.56" height="51.7" fill="#f4bbbd"/><rect x="540.73" y="447.9" width="1.1" height="51.7" fill="#f3b0b3"/><rect x="541.81" y="447.9" width="1.1" height="51.7" fill="#f2aaac"/><rect x="542.89" y="447.9" width="1.1" height="51.7" fill="#bdb2d5"/><rect x="543.97" y="447.9" width="0.56" height="51.7" fill="#f09b9e"/><rect x="544.51" y="447.9" width="1.64" height="51.7" fill="#e86065"/><rect x="546.13" y="447.9" width="1.1" height="51.7" fill="#f09da0"/><rect x="547.22" y="447.9" width="0.56" height="51.7" fill="#aca0cb"/><rect x="547.76" y="447.9" width="1.64" height="51.7" fill="#ef9396"/><rect x="549.38" y="447.9" width="1.64" height="51.7" fill="#ef9397"/><rect x="551" y="447.9" width="1.1" height="51.7" fill="#baafd4"/><rect x="552.08" y="447.9" width="0.56" height="51.7" fill="#cac1de"/><rect x="552.62" y="447.9" width="1.1" height="51.7" fill="#fae7e8"/><rect x="553.7" y="447.9" width="1.1" height="51.7" fill="#ee8c8f"/><rect x="554.79" y="447.9" width="1.64" height="51.7" fill="#f8dcdd"/><rect x="556.41" y="447.9" width="1.1" height="51.7" fill="#d0c8e2"/><rect x="557.49" y="447.9" width="0.56" height="51.7" fill="#c4bbda"/><rect x="558.03" y="447.9" width="0.56" height="51.7" fill="#f8dbdd"/><rect x="558.57" y="447.9" width="0.56" height="51.7" fill="#ef8f93"/><rect x="559.11" y="447.9" width="0.56" height="51.7" fill="#f09da0"/><rect x="559.65" y="447.9" width="1.64" height="51.7" fill="#e9e5f2"/><rect x="561.28" y="447.9" width="0.56" height="51.7" fill="#a395c5"/><rect x="561.82" y="447.9" width="0.56" height="51.7" fill="#f5bec0"/><rect x="562.36" y="447.9" width="0.56" height="51.7" fill="#f8dadb"/><rect x="562.9" y="447.9" width="1.1" height="51.7" fill="#bdb3d6"/><rect x="563.98" y="447.9" width="1.64" height="51.7" fill="#ef9699"/><rect x="565.6" y="447.9" width="1.64" height="51.7" fill="#f0989b"/><rect x="567.22" y="447.9" width="1.1" height="51.7" fill="#ef969a"/><rect x="568.31" y="447.9" width="1.64" height="51.7" fill="#eb7579"/><rect x="569.93" y="447.9" width="0.56" height="51.7" fill="#e9e5f2"/><rect x="570.47" y="447.9" width="0.56" height="51.7" fill="#ef9598"/><rect x="571.01" y="447.9" width="1.1" height="51.7" fill="#b5aad1"/><rect x="572.09" y="447.9" width="1.1" height="51.7" fill="#b2a5cf"/><rect x="573.17" y="447.9" width="1.1" height="51.7" fill="#e1dbec"/><rect x="574.26" y="447.9" width="1.64" height="51.7" fill="#f2aaac"/><rect x="575.88" y="447.9" width="0.56" height="51.7" fill="#f8d5d6"/><rect x="576.42" y="447.9" width="1.1" height="51.7" fill="#beb4d6"/>
<rect x="348.2" y="499.6" width="1.1" height="51.7" fill="#b4a8d0"/><rect x="349.28" y="499.6" width="1.64" height="51.7" fill="#b1a5ce"/><rect x="350.9" y="499.6" width="0.56" height="51.7" fill="#b3a7cf"/><rect x="351.44" y="499.6" width="1.64" height="51.7" fill="#b4a8d0"/><rect x="353.07" y="499.6" width="1.1" height="51.7" fill="#b5aad1"/><rect x="354.15" y="499.6" width="1.1" height="51.7" fill="#b8acd2"/><rect x="355.23" y="499.6" width="1.1" height="51.7" fill="#aea2cc"/><rect x="356.31" y="499.6" width="1.1" height="51.7" fill="#b0a4ce"/><rect x="357.39" y="499.6" width="0.56" height="51.7" fill="#b3a7cf"/><rect x="357.93" y="499.6" width="1.1" height="51.7" fill="#b1a4ce"/><rect x="359.02" y="499.6" width="1.1" height="51.7" fill="#b9aed3"/><rect x="360.1" y="499.6" width="1.64" height="51.7" fill="#b9aed3"/><rect x="361.72" y="499.6" width="0.56" height="51.7" fill="#beb4d7"/><rect x="362.26" y="499.6" width="0.56" height="51.7" fill="#b9aed3"/><rect x="362.8" y="499.6" width="1.64" height="51.7" fill="#b2a6cf"/><rect x="364.42" y="499.6" width="0.56" height="51.7" fill="#b2a6cf"/><rect x="364.96" y="499.6" width="0.56" height="51.7" fill="#b6aad1"/><rect x="365.51" y="499.6" width="0.56" height="51.7" fill="#b7acd2"/><rect x="366.05" y="499.6" width="1.64" height="51.7" fill="#b5a9d1"/><rect x="367.67" y="499.6" width="1.1" height="51.7" fill="#b4a8d0"/><rect x="368.75" y="499.6" width="0.56" height="51.7" fill="#b8acd2"/><rect x="369.29" y="499.6" width="1.1" height="51.7" fill="#bcb2d5"/><rect x="370.37" y="499.6" width="1.1" height="51.7" fill="#b7acd2"/><rect x="371.45" y="499.6" width="1.1" height="51.7" fill="#b8add2"/><rect x="372.54" y="499.6" width="1.64" height="51.7" fill="#b7acd2"/><rect x="374.16" y="499.6" width="0.56" height="51.7" fill="#c0b6d7"/><rect x="374.7" y="499.6" width="0.56" height="51.7" fill="#b1a5ce"/><rect x="375.24" y="499.6" width="0.56" height="51.7" fill="#fbf1f2"/><rect x="375.78" y="499.6" width="1.1" height="51.7" fill="#ddd7ea"/><rect x="376.86" y="499.6" width="0.56" height="51.7" fill="#f6cbcd"/><rect x="377.4" y="499.6" width="1.64" height="51.7" fill="#f5c3c5"/><rect x="379.03" y="499.6" width="1.1" height="51.7" fill="#ddd7ea"/><rect x="380.11" y="499.6" width="1.1" height="51.7" fill="#d3cbe3"/><rect x="381.19" y="499.6" width="0.56" height="51.7" fill="#ded8eb"/><rect x="381.73" y="499.6" width="1.64" height="51.7" fill="#f6c8ca"/><rect x="383.35" y="499.6" width="1.64" height="51.7" fill="#f1a6a8"/><rect x="384.97" y="499.6" width="0.56" height="51.7" fill="#f4b9bb"/><rect x="385.52" y="499.6" width="0.56" height="51.7" fill="#f2abad"/><rect x="386.06" y="499.6" width="1.64" height="51.7" fill="#f4bcbe"/><rect x="387.68" y="499.6" width="1.1" height="51.7" fill="#f4bcbf"/><rect x="388.76" y="499.6" width="1.1" height="51.7" fill="#d2cbe3"/><rect x="389.84" y="499.6" width="0.56" height="51.7" fill="#e7e3f0"/><rect x="390.38" y="499.6" width="0.56" height="51.7" fill="#f5bfc1"/><rect x="390.92" y="499.6" width="0.56" height="51.7" fill="#f2adaf"/><rect x="391.46" y="499.6" width="1.1" height="51.7" fill="#c4bbda"/><rect x="392.55" y="499.6" width="0.56" height="51.7" fill="#f4b9bc"/><rect x="393.09" y="499.6" width="0.56" height="51.7" fill="#f3b5b7"/><rect x="393.63" y="499.6" width="0.56" height="51.7" fill="#f8d7d9"/><rect x="394.17" y="499.6" width="1.64" height="51.7" fill="#f3b3b6"/><rect x="395.79" y="499.6" width="1.1" height="51.7" fill="#f5c1c3"/><rect x="396.87" y="499.6" width="0.56" height="51.7" fill="#efecf5"/><rect x="397.41" y="499.6" width="0.56" height="51.7" fill="#dcd5e9"/><rect x="397.95" y="499.6" width="1.1" height="51.7" fill="#f8dcde"/><rect x="399.04" y="499.6" width="1.1" height="51.7" fill="#d7d1e6"/><rect x="400.12" y="499.6" width="1.64" height="51.7" fill="#f9e4e5"/><rect x="401.74" y="499.6" width="0.56" height="51.7" fill="#f5c1c3"/><rect x="402.28" y="499.6" width="0.56" height="51.7" fill="#ded8eb"/><rect x="402.82" y="499.6" width="1.64" height="51.7" fill="#a699c8"/><rect x="404.44" y="499.6" width="1.64" height="51.7" fill="#d9d2e7"/><rect x="406.07" y="499.6" width="0.56" height="51.7" fill="#f4bcbf"/><rect x="406.61" y="499.6" width="1.64" height="51.7" fill="#f6ccce"/><rect x="408.23" y="499.6" width="1.64" height="51.7" fill="#e8e4f1"/><rect x="409.85" y="499.6" width="1.64" height="51.7" fill="#d9d2e7"/><rect x="411.47" y="499.6" width="0.56" height="51.7" fill="#cac1de"/><rect x="412.01" y="499.6" width="1.64" height="51.7" fill="#f6c8ca"/><rect x="413.64" y="499.6" width="1.1" height="51.7" fill="#d1cae2"/><rect x="414.72" y="499.6" width="0.56" height="51.7" fill="#d5cee5"/><rect x="415.26" y="499.6" width="1.1" height="51.7" fill="#bbb1d5"/><rect x="416.34" y="499.6" width="1.64" height="51.7" fill="#f5c5c7"/><rect x="417.96" y="499.6" width="0.56" height="51.7" fill="#d7d0e6"/><rect x="418.5" y="499.6" width="1.64" height="51.7" fill="#c0b6d8"/><rect x="420.13" y="499.6" width="1.64" height="51.7" fill="#d3cbe3"/><rect x="421.75" y="499.6" width="0.56" height="51.7" fill="#f5bfc1"/><rect x="422.29" y="499.6" width="1.64" height="51.7" fill="#f3afb1"/><rect x="423.91" y="499.6" width="0.56" height="51.7" fill="#f3b5b7"/><rect x="424.45" y="499.6" width="1.1" height="51.7" fill="#c7bedc"/><rect x="425.53" y="499.6" width="1.64" height="51.7" fill="#f3b3b5"/><rect x="427.16" y="499.6" width="1.1" height="51.7" fill="#d0c8e1"/><rect x="428.24" y="499.6" width="1.1" height="51.7" fill="#f6cbcd"/><rect x="429.32" y="499.6" width="1.1" height="51.7" fill="#f8dadb"/><rect x="430.4" y="499.6" width="0.56" height="51.7" fill="#b5aad1"/><rect x="430.94" y="499.6" width="1.1" height="51.7" fill="#cbc2de"/><rect x="432.02" y="499.6" width="0.56" height="51.7" fill="#f9dfe1"/><rect x="432.57" y="499.6" width="1.1" height="51.7" fill="#f2acaf"/><rect x="433.65" y="499.6" width="1.1" height="51.7" fill="#e5e0ef"/><rect x="434.73" y="499.6" width="1.64" height="51.7" fill="#dcd6e9"/><rect x="436.35" y="499.6" width="1.1" height="51.7" fill="#f6c8ca"/><rect x="437.43" y="499.6" width="1.1" height="51.7" fill="#f1a2a5"/><rect x="438.51" y="499.6" width="1.1" height="51.7" fill="#f3b1b4"/><rect x="439.6" y="499.6" width="1.64" height="51.7" fill="#cfc7e1"/><rect x="441.22" y="499.6" width="1.1" height="51.7" fill="#ede9f4"/><rect x="442.3" y="499.6" width="1.64" height="51.7" fill="#d5cde4"/><rect x="443.92" y="499.6" width="0.56" height="51.7" fill="#f7d4d6"/><rect x="444.46" y="499.6" width="1.1" height="51.7" fill="#f3b4b7"/><rect x="445.54" y="499.6" width="1.64" height="51.7" fill="#dfdaeb"/><rect x="447.17" y="499.6" width="1.1" height="51.7" fill="#ded8ea"/><rect x="448.25" y="499.6" width="1.1" height="51.7" fill="#cac1de"/><rect x="449.33" y="499.6" width="0.56" height="51.7" fill="#c9c0dd"/><rect x="449.87" y="499.6" width="1.1" height="51.7" fill="#d1cae2"/><rect x="450.95" y="499.6" width="1.1" height="51.7" fill="#f3b4b6"/><rect x="452.03" y="499.6" width="0.56" height="51.7" fill="#dbd5e9"/><rect x="452.57" y="499.6" width="1.1" height="51.7" fill="#f1a6a9"/><rect x="453.66" y="499.6" width="1.1" height="51.7" fill="#f2abad"/><rect x="454.74" y="499.6" width="1.64" height="51.7" fill="#c5bcdb"/><rect x="456.36" y="499.6" width="0.56" height="51.7" fill="#f2a7a9"/><rect x="456.9" y="499.6" width="1.1" height="51.7" fill="#ee8b8e"/><rect x="457.98" y="499.6" width="1.1" height="51.7" fill="#e5e1ef"/><rect x="459.06" y="499.6" width="1.1" height="51.7" fill="#f3b5b7"/><rect x="460.15" y="499.6" width="1.1" height="51.7" fill="#fcf4f5"/><rect x="461.23" y="499.6" width="1.64" height="51.7" fill="#c9c0dd"/><rect x="462.85" y="499.6" width="1.64" height="51.7" fill="#fcf3f4"/><rect x="464.47" y="499.6" width="1.1" height="51.7" fill="#d0c8e2"/><rect x="465.55" y="499.6" width="1.64" height="51.7" fill="#d6cfe6"/><rect x="467.18" y="499.6" width="0.56" height="51.7" fill="#ded8eb"/><rect x="467.72" y="499.6" width="0.56" height="51.7" fill="#f2eff7"/><rect x="468.26" y="499.6" width="1.1" height="51.7" fill="#f9e3e4"/><rect x="469.34" y="499.6" width="1.1" height="51.7" fill="#f4f2f8"/><rect x="470.42" y="499.6" width="1.1" height="51.7" fill="#f4b9bb"/><rect x="471.5" y="499.6" width="0.56" height="51.7" fill="#e3deed"/><rect x="472.04" y="499.6" width="1.64" height="51.7" fill="#f6cbcd"/><rect x="473.67" y="499.6" width="0.56" height="51.7" fill="#cec6e1"/><rect x="474.21" y="499.6" width="0.56" height="51.7" fill="#fcf5f6"/><rect x="474.75" y="499.6" width="0.56" height="51.7" fill="#f3b3b5"/><rect x="475.29" y="499.6" width="0.56" height="51.7" fill="#ef9194"/><rect x="475.83" y="499.6" width="1.64" height="51.7" fill="#f1a1a4"/><rect x="477.45" y="499.6" width="0.56" height="51.7" fill="#f3b2b5"/><rect x="477.99" y="499.6" width="0.56" height="51.7" fill="#f4bbbe"/><rect x="478.53" y="499.6" width="0.56" height="51.7" fill="#cec6e0"/><rect x="479.07" y="499.6" width="1.1" height="51.7" fill="#f7cfd1"/><rect x="480.16" y="499.6" width="1.1" height="51.7" fill="#f9dfe1"/><rect x="481.24" y="499.6" width="1.64" height="51.7" fill="#faeaec"/><rect x="482.86" y="499.6" width="0.56" height="51.7" fill="#f8d7d8"/><rect x="483.4" y="499.6" width="1.64" height="51.7" fill="#e5e0ef"/><rect x="485.02" y="499.6" width="1.64" height="51.7" fill="#d8d1e7"/><rect x="486.65" y="499.6" width="0.56" height="51.7" fill="#c8bfdd"/><rect x="487.19" y="499.6" width="1.64" height="51.7" fill="#f4b8ba"/><rect x="488.81" y="499.6" width="0.56" height="51.7" fill="#f0edf6"/><rect x="489.35" y="499.6" width="0.56" height="51.7" fill="#f0999c"/><rect x="489.89" y="499.6" width="0.56" height="51.7" fill="#ded8ea"/><rect x="490.43" y="499.6" width="0.56" height="51.7" fill="#f3b1b3"/><rect x="490.97" y="499.6" width="0.56" height="51.7" fill="#ea6e72"/><rect x="491.51" y="499.6" width="1.1" height="51.7" fill="#e9e4f1"/><rect x="492.59" y="499.6" width="0.56" height="51.7" fill="#faebec"/><rect x="493.13" y="499.6" width="0.56" height="51.7" fill="#ccc4df"/><rect x="493.68" y="499.6" width="1.64" height="51.7" fill="#f2aaad"/><rect x="495.3" y="499.6" width="0.56" height="51.7" fill="#e3deee"/><rect x="495.84" y="499.6" width="1.1" height="51.7" fill="#f5c2c4"/><rect x="496.92" y="499.6" width="0.56" height="51.7" fill="#f3aeb1"/><rect x="497.46" y="499.6" width="1.1" height="51.7" fill="#f5c4c6"/><rect x="498.54" y="499.6" width="1.1" height="51.7" fill="#ded8eb"/><rect x="499.62" y="499.6" width="0.56" height="51.7" fill="#ded8ea"/><rect x="500.17" y="499.6" width="0.56" height="51.7" fill="#f7d2d4"/><rect x="500.71" y="499.6" width="1.1" height="51.7" fill="#dad4e8"/><rect x="501.79" y="499.6" width="0.56" height="51.7" fill="#cac2de"/><rect x="502.33" y="499.6" width="0.56" height="51.7" fill="#faebec"/><rect x="502.87" y="499.6" width="1.64" height="51.7" fill="#f2a9ac"/><rect x="504.49" y="499.6" width="0.56" height="51.7" fill="#c8bfdd"/><rect x="505.03" y="499.6" width="1.1" height="51.7" fill="#dfd9eb"/><rect x="506.11" y="499.6" width="1.64" height="51.7" fill="#f1a1a4"/><rect x="507.74" y="499.6" width="1.64" height="51.7" fill="#e3dded"/><rect x="509.36" y="499.6" width="1.64" height="51.7" fill="#d6cfe5"/><rect x="510.98" y="499.6" width="0.56" height="51.7" fill="#f4b6b9"/><rect x="511.52" y="499.6" width="0.56" height="51.7" fill="#cac1de"/><rect x="512.06" y="499.6" width="1.64" height="51.7" fill="#f5c3c6"/><rect x="513.69" y="499.6" width="0.56" height="51.7" fill="#ddd7ea"/><rect x="514.23" y="499.6" width="1.1" height="51.7" fill="#f3b1b3"/><rect x="515.31" y="499.6" width="0.56" height="51.7" fill="#f4bcbe"/><rect x="515.85" y="499.6" width="1.1" height="51.7" fill="#fae4e6"/><rect x="516.93" y="499.6" width="1.1" height="51.7" fill="#dcd6e9"/><rect x="518.01" y="499.6" width="1.1" height="51.7" fill="#ef9093"/><rect x="519.09" y="499.6" width="1.64" height="51.7" fill="#f6ccce"/><rect x="520.72" y="499.6" width="0.56" height="51.7" fill="#e4dfee"/><rect x="521.26" y="499.6" width="0.56" height="51.7" fill="#fae6e7"/><rect x="521.8" y="499.6" width="0.56" height="51.7" fill="#f6c5c7"/><rect x="522.34" y="499.6" width="1.64" height="51.7" fill="#c3bada"/><rect x="523.96" y="499.6" width="1.1" height="51.7" fill="#fae5e7"/><rect x="525.04" y="499.6" width="1.64" height="51.7" fill="#ed8387"/><rect x="526.66" y="499.6" width="1.64" height="51.7" fill="#fae9eb"/><rect x="528.29" y="499.6" width="1.1" height="51.7" fill="#ed878b"/><rect x="529.37" y="499.6" width="1.1" height="51.7" fill="#f3b3b6"/><rect x="530.45" y="499.6" width="1.1" height="51.7" fill="#f5c2c4"/><rect x="531.53" y="499.6" width="1.1" height="51.7" fill="#eae6f2"/><rect x="532.61" y="499.6" width="1.1" height="51.7" fill="#bfb5d7"/><rect x="533.7" y="499.6" width="1.64" height="51.7" fill="#e0daeb"/><rect x="535.32" y="499.6" width="0.56" height="51.7" fill="#f7ced0"/><rect x="535.86" y="499.6" width="1.1" height="51.7" fill="#f2abae"/><rect x="536.94" y="499.6" width="1.1" height="51.7" fill="#d3cce4"/><rect x="538.02" y="499.6" width="1.64" height="51.7" fill="#beb3d6"/><rect x="539.64" y="499.6" width="1.1" height="51.7" fill="#e0daec"/><rect x="540.73" y="499.6" width="0.56" height="51.7" fill="#d1cae3"/><rect x="541.27" y="499.6" width="0.56" height="51.7" fill="#eae6f2"/><rect x="541.81" y="499.6" width="1.1" height="51.7" fill="#ed8286"/><rect x="542.89" y="499.6" width="1.64" height="51.7" fill="#ef9396"/><rect x="544.51" y="499.6" width="0.56" height="51.7" fill="#f3b3b5"/><rect x="545.05" y="499.6" width="0.56" height="51.7" fill="#ef9396"/><rect x="545.59" y="499.6" width="1.1" height="51.7" fill="#e8e3f0"/><rect x="546.67" y="499.6" width="0.56" height="51.7" fill="#e7e2f0"/><rect x="547.22" y="499.6" width="1.1" height="51.7" fill="#dad4e8"/><rect x="548.3" y="499.6" width="1.1" height="51.7" fill="#f6cacc"/><rect x="549.38" y="499.6" width="0.56" height="51.7" fill="#d4cce4"/><rect x="549.92" y="499.6" width="1.1" height="51.7" fill="#f1a1a4"/><rect x="551" y="499.6" width="0.56" height="51.7" fill="#f7d1d3"/><rect x="551.54" y="499.6" width="1.64" height="51.7" fill="#ddd7ea"/><rect x="553.16" y="499.6" width="1.64" height="51.7" fill="#dcd6e9"/><rect x="554.79" y="499.6" width="0.56" height="51.7" fill="#ef979a"/><rect x="555.33" y="499.6" width="1.64" height="51.7" fill="#fbf2f4"/><rect x="556.95" y="499.6" width="1.1" height="51.7" fill="#e8e3f0"/><rect x="558.03" y="499.6" width="1.1" height="51.7" fill="#f7ced0"/><rect x="559.11" y="499.6" width="1.64" height="51.7" fill="#f7ced0"/><rect x="560.74" y="499.6" width="0.56" height="51.7" fill="#c9c0dd"/><rect x="561.28" y="499.6" width="1.64" height="51.7" fill="#d4cce4"/><rect x="562.9" y="499.6" width="1.1" height="51.7" fill="#f8dadc"/><rect x="563.98" y="499.6" width="0.56" height="51.7" fill="#f5c0c2"/><rect x="564.52" y="499.6" width="0.56" height="51.7" fill="#d7d0e6"/><rect x="565.06" y="499.6" width="1.1" height="51.7" fill="#d1cae2"/><rect x="566.14" y="499.6" width="0.56" height="51.7" fill="#f5bec0"/><rect x="566.68" y="499.6" width="0.56" height="51.7" fill="#e7e2f0"/><rect x="567.22" y="499.6" width="1.1" height="51.7" fill="#e3deed"/><rect x="568.31" y="499.6" width="0.56" height="51.7" fill="#f5c0c2"/><rect x="568.85" y="499.6" width="1.64" height="51.7" fill="#f8d7d9"/><rect x="570.47" y="499.6" width="1.1" height="51.7" fill="#f5c2c4"/><rect x="571.55" y="499.6" width="0.56" height="51.7" fill="#c7bedc"/><rect x="572.09" y="499.6" width="0.56" height="51.7" fill="#d5cee5"/><rect x="572.63" y="499.6" width="0.56" height="51.7" fill="#f4b7b9"/><rect x="573.17" y="499.6" width="0.56" height="51.7" fill="#d7d0e6"/><rect x="573.71" y="499.6" width="0.56" height="51.7" fill="#fbf2f4"/><rect x="574.26" y="499.6" width="1.64" height="51.7" fill="#ee8b8f"/><rect x="575.88" y="499.6" width="1.1" height="51.7" fill="#f5bfc2"/><rect x="576.96" y="499.6" width="0.56" height="51.7" fill="#ec7a7e"/>
<rect x="348.2" y="339.0" width="229.3" height="3.9" fill="rgb(240,138,128)"/>
<rect x="348.2" y="339.0" width="27.0" height="3.9" fill="rgb(91,191,181)"/>
<text x="0" y="0" transform="translate(580.1,342.5) scale(1,1.04)" font-size="8" text-anchor="start" font-weight="bold" fill="#222" >Type</text>
<path d="M348.1,370.4H315.4V460.9H322.9 M322.9,422.3H348.1 M322.9,422.3V500.2H324.4 M324.4,474.0H348.1 M324.4,474.0V526.0H348.1" fill="none" stroke="#222" stroke-width="1.1"/>
<text x="0" y="0" transform="translate(580.1,372.2) scale(1,1.04)" font-size="10.4" text-anchor="start" font-weight="normal" fill="#222" >AC009053.3***</text>
<text x="0" y="0" transform="translate(580.1,424.1) scale(1,1.04)" font-size="10.4" text-anchor="start" font-weight="normal" fill="#222" >LINC02154***</text>
<text x="0" y="0" transform="translate(580.1,476) scale(1,1.04)" font-size="10.4" text-anchor="start" font-weight="normal" fill="#222" >AL365356.5***</text>
<text x="0" y="0" transform="translate(580.1,527.8) scale(1,1.04)" font-size="10.4" text-anchor="start" font-weight="normal" fill="#222" >AC004817.3***</text>
<defs><linearGradient id="cbar" x1="0" y1="0" x2="0" y2="1">
<stop offset="0" stop-color="#e73938"/>
<stop offset="0.42" stop-color="#e73938"/>
<stop offset="0.46" stop-color="#ffa396"/>
<stop offset="0.48" stop-color="#ffd1ca"/>
<stop offset="0.5" stop-color="#ffffff"/>
<stop offset="0.52" stop-color="#d0cbe5"/>
<stop offset="0.54" stop-color="#a19aca"/>
<stop offset="0.57" stop-color="#3c4096"/>
<stop offset="1" stop-color="#3c4096"/>
</linearGradient></defs>
<rect x="605.4" y="255.1" width="6.3" height="97.6" fill="url(#cbar)"/>
<text x="0" y="0" transform="translate(612.6,270.7) scale(1,1.04)" font-size="7" text-anchor="start" font-weight="normal" fill="#262626" >10</text>
<text x="0" y="0" transform="translate(612.6,288) scale(1,1.04)" font-size="7" text-anchor="start" font-weight="normal" fill="#262626" >5</text>
<text x="0" y="0" transform="translate(612.6,306) scale(1,1.04)" font-size="7" text-anchor="start" font-weight="normal" fill="#262626" >0</text>
<text x="0" y="0" transform="translate(612.6,324.5) scale(1,1.04)" font-size="7" text-anchor="start" font-weight="normal" fill="#262626" >&#8722;5</text>
<text x="0" y="0" transform="translate(612.6,342.7) scale(1,1.04)" font-size="7" text-anchor="start" font-weight="normal" fill="#262626" >&#8722;10</text>
<text x="0" y="0" transform="translate(623.4,251.1) scale(1,1.04)" font-size="7.5" text-anchor="start" font-weight="bold" fill="#222" >Type</text>
<rect x="623.4" y="259.0" width="8.3" height="9.4" fill="rgb(91,191,181)"/>
<rect x="623.4" y="268.4" width="8.3" height="9.3" fill="rgb(240,138,128)"/>
<text x="0" y="0" transform="translate(633.7,266.3) scale(1,1.04)" font-size="7.5" text-anchor="start" font-weight="normal" fill="#222" >Normal</text>
<text x="0" y="0" transform="translate(633.7,276) scale(1,1.04)" font-size="7.5" text-anchor="start" font-weight="normal" fill="#222" >Tumor</text>
<text x="0" y="0" transform="translate(119.1,611.9) scale(1,1.04)" font-size="6.75" text-anchor="end" font-weight="bold" fill="#222" >pvalue</text>
<text x="0" y="0" transform="translate(190.8,611.8) scale(1,1.04)" font-size="7" text-anchor="end" font-weight="bold" fill="#222" >Hazard ratio</text>
<text x="0" y="0" transform="translate(56.7,650.9) scale(1,1.04)" font-size="7" text-anchor="start" font-weight="normal" fill="#262626" >AC009053.3</text>
<text x="0" y="0" transform="translate(119.1,650.9) scale(1,1.04)" font-size="7" text-anchor="end" font-weight="normal" fill="#262626" >&lt;0.001</text>
<text x="0" y="0" transform="translate(191.3,650.9) scale(1,1.04)" font-size="7" text-anchor="end" font-weight="normal" fill="#262626" >0.966(0.948&#8722;0.984)</text>
<text x="0" y="0" transform="translate(56.7,689.3) scale(1,1.04)" font-size="7" text-anchor="start" font-weight="normal" fill="#262626" >AL365356.5</text>
<text x="0" y="0" transform="translate(119.1,689.3) scale(1,1.04)" font-size="7" text-anchor="end" font-weight="normal" fill="#262626" >&lt;0.001</text>
<text x="0" y="0" transform="translate(191.3,689.3) scale(1,1.04)" font-size="7" text-anchor="end" font-weight="normal" fill="#262626" >1.045(1.029&#8722;1.061)</text>
<text x="0" y="0" transform="translate(56.7,727.9) scale(1,1.04)" font-size="7" text-anchor="start" font-weight="normal" fill="#262626" >LINC02154</text>
<text x="0" y="0" transform="translate(119.1,727.9) scale(1,1.04)" font-size="7" text-anchor="end" font-weight="normal" fill="#262626" >&lt;0.001</text>
<text x="0" y="0" transform="translate(191.3,727.9) scale(1,1.04)" font-size="7" text-anchor="end" font-weight="normal" fill="#262626" >1.017(1.009&#8722;1.024)</text>
<text x="0" y="0" transform="translate(56.7,766.2) scale(1,1.04)" font-size="7" text-anchor="start" font-weight="normal" fill="#262626" >AC004817.3</text>
<text x="0" y="0" transform="translate(119.1,766.2) scale(1,1.04)" font-size="7" text-anchor="end" font-weight="normal" fill="#262626" >&lt;0.001</text>
<text x="0" y="0" transform="translate(191.3,766.2) scale(1,1.04)" font-size="7" text-anchor="end" font-weight="normal" fill="#262626" >1.023(1.011&#8722;1.034)</text>
<line x1="311.5" y1="603" x2="311.5" y2="769.5" stroke="#111" stroke-width="1.8" stroke-dasharray="7.5,9.2" stroke-dashoffset="6"/>
<line x1="306.55" y1="648.4" x2="309.98" y2="648.4" stroke="rgb(52,70,160)" stroke-width="1.2"/>
<rect x="305.87" y="645.3" width="4.8" height="6.2" fill="rgb(52,70,160)"/>
<line x1="314.26" y1="686.8" x2="317.3" y2="686.8" stroke="rgb(232,52,50)" stroke-width="1.2"/>
<rect x="313.38" y="683.7" width="4.8" height="6.2" fill="rgb(232,52,50)"/>
<line x1="312.36" y1="725.4" x2="313.78" y2="725.4" stroke="rgb(232,52,50)" stroke-width="1.2"/>
<rect x="310.72" y="722.3" width="4.8" height="6.2" fill="rgb(232,52,50)"/>
<line x1="312.55" y1="763.7" x2="314.73" y2="763.7" stroke="rgb(232,52,50)" stroke-width="1.2"/>
<rect x="311.29" y="760.6" width="4.8" height="6.2" fill="rgb(232,52,50)"/>
<line x1="216.4" y1="770" x2="311.5" y2="770" stroke="#222" stroke-width="1.1"/>
<line x1="216.4" y1="770" x2="216.4" y2="775" stroke="#222" stroke-width="1.1"/>
<text x="0" y="0" transform="translate(216.4,784.1) scale(1,1.04)" font-size="8.4" text-anchor="middle" font-weight="normal" fill="#222" >0.0</text>
<line x1="235.42" y1="770" x2="235.42" y2="775" stroke="#222" stroke-width="1.1"/>
<text x="0" y="0" transform="translate(235.42,784.1) scale(1,1.04)" font-size="8.4" text-anchor="middle" font-weight="normal" fill="#222" >0.2</text>
<line x1="254.44" y1="770" x2="254.44" y2="775" stroke="#222" stroke-width="1.1"/>
<text x="0" y="0" transform="translate(254.44,784.1) scale(1,1.04)" font-size="8.4" text-anchor="middle" font-weight="normal" fill="#222" >0.4</text>
<line x1="273.46" y1="770" x2="273.46" y2="775" stroke="#222" stroke-width="1.1"/>
<text x="0" y="0" transform="translate(273.46,784.1) scale(1,1.04)" font-size="8.4" text-anchor="middle" font-weight="normal" fill="#222" >0.6</text>
<line x1="292.48" y1="770" x2="292.48" y2="775" stroke="#222" stroke-width="1.1"/>
<text x="0" y="0" transform="translate(292.48,784.1) scale(1,1.04)" font-size="8.4" text-anchor="middle" font-weight="normal" fill="#222" >0.8</text>
<line x1="311.5" y1="770" x2="311.5" y2="775" stroke="#222" stroke-width="1.1"/>
<text x="0" y="0" transform="translate(311.5,784.1) scale(1,1.04)" font-size="8.4" text-anchor="middle" font-weight="normal" fill="#222" >1.0</text>
<text x="0" y="0" transform="translate(266.3,798.7) scale(1,1.04)" font-size="8.1" text-anchor="middle" font-weight="normal" fill="#222" >Hazard ratio</text>
<line x1="387.6" y1="648.5" x2="433.3" y2="709.3" stroke="rgb(140,124,124)" stroke-width="1.3"/>
<line x1="433.3" y1="709.3" x2="507.8" y2="715.5" stroke="rgb(140,124,124)" stroke-width="1.3"/>
<line x1="433.3" y1="709.3" x2="419.8" y2="784.3" stroke="rgb(140,124,124)" stroke-width="1.3"/>
<line x1="577.4" y1="648.8" x2="556.5" y2="783.7" stroke="rgb(140,124,124)" stroke-width="1.3"/>
<ellipse cx="387.6" cy="648.5" rx="25.6" ry="12.1" fill="rgb(239,138,134)"/>
<text x="0" y="0" transform="translate(387.6,651.6) scale(1,1.04)" font-size="8.8" text-anchor="middle" font-weight="normal" fill="#222" >AL365356.5</text>
<ellipse cx="507.8" cy="715.5" rx="25.6" ry="12.1" fill="rgb(239,138,134)"/>
<text x="0" y="0" transform="translate(507.8,718.6) scale(1,1.04)" font-size="8.8" text-anchor="middle" font-weight="normal" fill="#222" >LINC02154</text>
<ellipse cx="419.8" cy="784.3" rx="25.6" ry="12.1" fill="rgb(239,138,134)"/>
<text x="0" y="0" transform="translate(419.8,787.4) scale(1,1.04)" font-size="8.8" text-anchor="middle" font-weight="normal" fill="#222" >AC004817.3</text>
<ellipse cx="577.4" cy="648.8" rx="25.6" ry="12.1" fill="rgb(239,138,134)"/>
<text x="0" y="0" transform="translate(577.4,651.9) scale(1,1.04)" font-size="8.8" text-anchor="middle" font-weight="normal" fill="#222" >AC009053.3</text>
<path d="M408.2,709.3 L433.3,697.4 L458.4,709.3 L433.3,721.2 Z" fill="rgb(125,202,200)"/>
<text x="0" y="0" transform="translate(433.3,711.9) scale(1,1.04)" font-size="7.4" text-anchor="middle" font-weight="normal" fill="#222" >DLST</text>
<path d="M531.4,783.7 L556.5,771.8 L581.6,783.7 L556.5,795.6 Z" fill="rgb(125,202,200)"/>
<text x="0" y="0" transform="translate(556.5,786.3) scale(1,1.04)" font-size="7.4" text-anchor="middle" font-weight="normal" fill="#222" >ATP7B</text>
</svg></body></html>
